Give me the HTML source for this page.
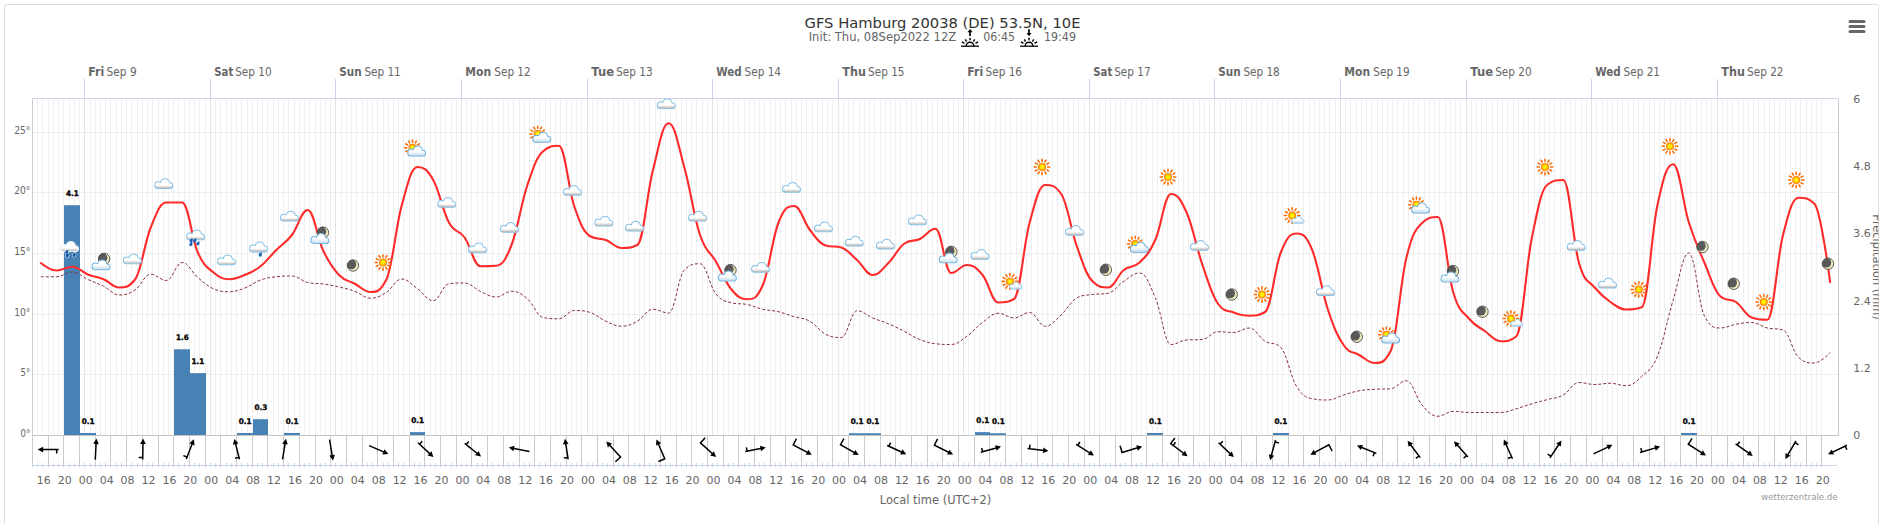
<!DOCTYPE html>
<html><head><meta charset="utf-8"><title>GFS Hamburg Meteogram</title><style>html,body{margin:0;padding:0;background:#fff;overflow:hidden}svg{display:block}</style></head><body>
<svg width="1881" height="524" viewBox="0 0 1881 524" font-family="DejaVu Sans, Liberation Sans, sans-serif">
<defs>
<linearGradient id="cg" x1="0" y1="0" x2="0" y2="1"><stop offset="0" stop-color="#fff"/><stop offset="0.66" stop-color="#fff"/><stop offset="0.84" stop-color="#d9d5d1"/><stop offset="0.94" stop-color="#c2bdb9"/><stop offset="1" stop-color="#dfe9f2"/></linearGradient>
<radialGradient id="sg" cx="0.5" cy="0.5" r="0.5"><stop offset="0" stop-color="#ffff00"/><stop offset="0.35" stop-color="#fff000"/><stop offset="0.75" stop-color="#ffa400"/><stop offset="1" stop-color="#ff7200"/></radialGradient>
<linearGradient id="cb" x1="0" y1="0" x2="0" y2="1"><stop offset="0" stop-color="#fff"/><stop offset="0.5" stop-color="#fff"/><stop offset="0.9" stop-color="#cfe3f0"/><stop offset="1" stop-color="#e6f0f8"/></linearGradient>
<clipPath id="mc"><circle r="5.8"/></clipPath>
</defs>
<rect width="1881" height="524" fill="#fff"/>
<rect x="4.5" y="4.5" width="1874" height="540" rx="2" fill="none" stroke="#dcdcdc" stroke-width="1"/>
<path d="M37.5,98.5V435.5M42.5,98.5V435.5M48.5,98.5V435.5M53.5,98.5V435.5M58.5,98.5V435.5M63.5,98.5V435.5M69.5,98.5V435.5M74.5,98.5V435.5M79.5,98.5V435.5M90.5,98.5V435.5M95.5,98.5V435.5M100.5,98.5V435.5M105.5,98.5V435.5M110.5,98.5V435.5M116.5,98.5V435.5M121.5,98.5V435.5M126.5,98.5V435.5M131.5,98.5V435.5M137.5,98.5V435.5M142.5,98.5V435.5M147.5,98.5V435.5M152.5,98.5V435.5M158.5,98.5V435.5M163.5,98.5V435.5M168.5,98.5V435.5M173.5,98.5V435.5M178.5,98.5V435.5M184.5,98.5V435.5M189.5,98.5V435.5M194.5,98.5V435.5M199.5,98.5V435.5M205.5,98.5V435.5M215.5,98.5V435.5M220.5,98.5V435.5M226.5,98.5V435.5M231.5,98.5V435.5M236.5,98.5V435.5M241.5,98.5V435.5M247.5,98.5V435.5M252.5,98.5V435.5M257.5,98.5V435.5M262.5,98.5V435.5M267.5,98.5V435.5M273.5,98.5V435.5M278.5,98.5V435.5M283.5,98.5V435.5M288.5,98.5V435.5M294.5,98.5V435.5M299.5,98.5V435.5M304.5,98.5V435.5M309.5,98.5V435.5M315.5,98.5V435.5M320.5,98.5V435.5M325.5,98.5V435.5M330.5,98.5V435.5M341.5,98.5V435.5M346.5,98.5V435.5M351.5,98.5V435.5M356.5,98.5V435.5M362.5,98.5V435.5M367.5,98.5V435.5M372.5,98.5V435.5M377.5,98.5V435.5M383.5,98.5V435.5M388.5,98.5V435.5M393.5,98.5V435.5M398.5,98.5V435.5M403.5,98.5V435.5M409.5,98.5V435.5M414.5,98.5V435.5M419.5,98.5V435.5M424.5,98.5V435.5M430.5,98.5V435.5M435.5,98.5V435.5M440.5,98.5V435.5M445.5,98.5V435.5M451.5,98.5V435.5M456.5,98.5V435.5M466.5,98.5V435.5M471.5,98.5V435.5M477.5,98.5V435.5M482.5,98.5V435.5M487.5,98.5V435.5M492.5,98.5V435.5M498.5,98.5V435.5M503.5,98.5V435.5M508.5,98.5V435.5M513.5,98.5V435.5M519.5,98.5V435.5M524.5,98.5V435.5M529.5,98.5V435.5M534.5,98.5V435.5M539.5,98.5V435.5M545.5,98.5V435.5M550.5,98.5V435.5M555.5,98.5V435.5M560.5,98.5V435.5M566.5,98.5V435.5M571.5,98.5V435.5M576.5,98.5V435.5M581.5,98.5V435.5M592.5,98.5V435.5M597.5,98.5V435.5M602.5,98.5V435.5M607.5,98.5V435.5M613.5,98.5V435.5M618.5,98.5V435.5M623.5,98.5V435.5M628.5,98.5V435.5M634.5,98.5V435.5M639.5,98.5V435.5M644.5,98.5V435.5M649.5,98.5V435.5M655.5,98.5V435.5M660.5,98.5V435.5M665.5,98.5V435.5M670.5,98.5V435.5M676.5,98.5V435.5M681.5,98.5V435.5M686.5,98.5V435.5M691.5,98.5V435.5M696.5,98.5V435.5M702.5,98.5V435.5M707.5,98.5V435.5M717.5,98.5V435.5M723.5,98.5V435.5M728.5,98.5V435.5M733.5,98.5V435.5M738.5,98.5V435.5M744.5,98.5V435.5M749.5,98.5V435.5M754.5,98.5V435.5M759.5,98.5V435.5M764.5,98.5V435.5M770.5,98.5V435.5M775.5,98.5V435.5M780.5,98.5V435.5M785.5,98.5V435.5M791.5,98.5V435.5M796.5,98.5V435.5M801.5,98.5V435.5M806.5,98.5V435.5M812.5,98.5V435.5M817.5,98.5V435.5M822.5,98.5V435.5M827.5,98.5V435.5M832.5,98.5V435.5M843.5,98.5V435.5M848.5,98.5V435.5M853.5,98.5V435.5M859.5,98.5V435.5M864.5,98.5V435.5M869.5,98.5V435.5M874.5,98.5V435.5M880.5,98.5V435.5M885.5,98.5V435.5M890.5,98.5V435.5M895.5,98.5V435.5M900.5,98.5V435.5M906.5,98.5V435.5M911.5,98.5V435.5M916.5,98.5V435.5M921.5,98.5V435.5M927.5,98.5V435.5M932.5,98.5V435.5M937.5,98.5V435.5M942.5,98.5V435.5M948.5,98.5V435.5M953.5,98.5V435.5M958.5,98.5V435.5M968.5,98.5V435.5M974.5,98.5V435.5M979.5,98.5V435.5M984.5,98.5V435.5M989.5,98.5V435.5M995.5,98.5V435.5M1000.5,98.5V435.5M1005.5,98.5V435.5M1010.5,98.5V435.5M1016.5,98.5V435.5M1021.5,98.5V435.5M1026.5,98.5V435.5M1031.5,98.5V435.5M1037.5,98.5V435.5M1042.5,98.5V435.5M1047.5,98.5V435.5M1052.5,98.5V435.5M1057.5,98.5V435.5M1063.5,98.5V435.5M1068.5,98.5V435.5M1073.5,98.5V435.5M1078.5,98.5V435.5M1084.5,98.5V435.5M1094.5,98.5V435.5M1099.5,98.5V435.5M1105.5,98.5V435.5M1110.5,98.5V435.5M1115.5,98.5V435.5M1120.5,98.5V435.5M1125.5,98.5V435.5M1131.5,98.5V435.5M1136.5,98.5V435.5M1141.5,98.5V435.5M1146.5,98.5V435.5M1152.5,98.5V435.5M1157.5,98.5V435.5M1162.5,98.5V435.5M1167.5,98.5V435.5M1173.5,98.5V435.5M1178.5,98.5V435.5M1183.5,98.5V435.5M1188.5,98.5V435.5M1193.5,98.5V435.5M1199.5,98.5V435.5M1204.5,98.5V435.5M1209.5,98.5V435.5M1220.5,98.5V435.5M1225.5,98.5V435.5M1230.5,98.5V435.5M1235.5,98.5V435.5M1241.5,98.5V435.5M1246.5,98.5V435.5M1251.5,98.5V435.5M1256.5,98.5V435.5M1261.5,98.5V435.5M1267.5,98.5V435.5M1272.5,98.5V435.5M1277.5,98.5V435.5M1282.5,98.5V435.5M1288.5,98.5V435.5M1293.5,98.5V435.5M1298.5,98.5V435.5M1303.5,98.5V435.5M1309.5,98.5V435.5M1314.5,98.5V435.5M1319.5,98.5V435.5M1324.5,98.5V435.5M1329.5,98.5V435.5M1335.5,98.5V435.5M1345.5,98.5V435.5M1350.5,98.5V435.5M1356.5,98.5V435.5M1361.5,98.5V435.5M1366.5,98.5V435.5M1371.5,98.5V435.5M1377.5,98.5V435.5M1382.5,98.5V435.5M1387.5,98.5V435.5M1392.5,98.5V435.5M1397.5,98.5V435.5M1403.5,98.5V435.5M1408.5,98.5V435.5M1413.5,98.5V435.5M1418.5,98.5V435.5M1424.5,98.5V435.5M1429.5,98.5V435.5M1434.5,98.5V435.5M1439.5,98.5V435.5M1445.5,98.5V435.5M1450.5,98.5V435.5M1455.5,98.5V435.5M1460.5,98.5V435.5M1471.5,98.5V435.5M1476.5,98.5V435.5M1481.5,98.5V435.5M1486.5,98.5V435.5M1492.5,98.5V435.5M1497.5,98.5V435.5M1502.5,98.5V435.5M1507.5,98.5V435.5M1513.5,98.5V435.5M1518.5,98.5V435.5M1523.5,98.5V435.5M1528.5,98.5V435.5M1534.5,98.5V435.5M1539.5,98.5V435.5M1544.5,98.5V435.5M1549.5,98.5V435.5M1554.5,98.5V435.5M1560.5,98.5V435.5M1565.5,98.5V435.5M1570.5,98.5V435.5M1575.5,98.5V435.5M1581.5,98.5V435.5M1586.5,98.5V435.5M1596.5,98.5V435.5M1602.5,98.5V435.5M1607.5,98.5V435.5M1612.5,98.5V435.5M1617.5,98.5V435.5M1622.5,98.5V435.5M1628.5,98.5V435.5M1633.5,98.5V435.5M1638.5,98.5V435.5M1643.5,98.5V435.5M1649.5,98.5V435.5M1654.5,98.5V435.5M1659.5,98.5V435.5M1664.5,98.5V435.5M1670.5,98.5V435.5M1675.5,98.5V435.5M1680.5,98.5V435.5M1685.5,98.5V435.5M1690.5,98.5V435.5M1696.5,98.5V435.5M1701.5,98.5V435.5M1706.5,98.5V435.5M1711.5,98.5V435.5M1722.5,98.5V435.5M1727.5,98.5V435.5M1732.5,98.5V435.5M1738.5,98.5V435.5M1743.5,98.5V435.5M1748.5,98.5V435.5M1753.5,98.5V435.5M1758.5,98.5V435.5M1764.5,98.5V435.5M1769.5,98.5V435.5M1774.5,98.5V435.5M1779.5,98.5V435.5M1785.5,98.5V435.5M1790.5,98.5V435.5M1795.5,98.5V435.5M1800.5,98.5V435.5M1806.5,98.5V435.5M1811.5,98.5V435.5M1816.5,98.5V435.5M1821.5,98.5V435.5" stroke="#f0f0f0" stroke-width="1" fill="none"/>
<path d="M84.5,98.5V435.5M210.5,98.5V435.5M335.5,98.5V435.5M461.5,98.5V435.5M587.5,98.5V435.5M712.5,98.5V435.5M838.5,98.5V435.5M963.5,98.5V435.5M1089.5,98.5V435.5M1214.5,98.5V435.5M1340.5,98.5V435.5M1466.5,98.5V435.5M1591.5,98.5V435.5M1717.5,98.5V435.5" stroke="#e3e3e3" stroke-width="1" fill="none"/>
<path d="M32.5,132.5H1838.5M32.5,192.5H1838.5M32.5,253.5H1838.5M32.5,314.5H1838.5M32.5,374.5H1838.5" stroke="#ededed" stroke-width="1" fill="none"/>
<rect x="64" y="205.22" width="16" height="230.28" fill="#4682b4"/>
<rect x="80" y="432.97" width="16" height="2.53" fill="#4682b4"/>
<rect x="174" y="349.28" width="16" height="86.22" fill="#4682b4"/>
<rect x="190" y="373.15" width="16" height="62.35" fill="#4682b4"/>
<rect x="237" y="432.97" width="16" height="2.53" fill="#4682b4"/>
<rect x="253" y="419.21" width="15" height="16.29" fill="#4682b4"/>
<rect x="284" y="432.97" width="16" height="2.53" fill="#4682b4"/>
<rect x="410" y="432.13" width="15" height="3.37" fill="#4682b4"/>
<rect x="849" y="433.25" width="16" height="2.25" fill="#4682b4"/>
<rect x="865" y="433.25" width="16" height="2.25" fill="#4682b4"/>
<rect x="975" y="432.13" width="15" height="3.37" fill="#4682b4"/>
<rect x="990" y="433.25" width="16" height="2.25" fill="#4682b4"/>
<rect x="1147" y="432.97" width="16" height="2.53" fill="#4682b4"/>
<rect x="1273" y="432.97" width="16" height="2.53" fill="#4682b4"/>
<rect x="1681" y="432.97" width="16" height="2.53" fill="#4682b4"/>
<path d="M32.5,98.5V467.0M1838.5,98.5V435.5" stroke="#cccccc" stroke-width="1" fill="none"/>
<path d="M32.5,435.5H1838.5" stroke="#c4c4c4" stroke-width="1.2" fill="none"/>
<path d="M32.5,98.5H1838.5M84.5,98.5V79M210.5,98.5V79M335.5,98.5V79M461.5,98.5V79M587.5,98.5V79M712.5,98.5V79M838.5,98.5V79M963.5,98.5V79M1089.5,98.5V79M1214.5,98.5V79M1340.5,98.5V79M1466.5,98.5V79M1591.5,98.5V79M1717.5,98.5V79" stroke="#ccd6eb" stroke-width="1" fill="none"/>
<path d="M40.85,276.75C40.85,276.75 50.26,276.75 56.54,276.75C62.82,276.75 65.96,272.00 72.24,272.00C78.52,272.00 81.66,276.65 87.93,279.50C94.21,282.35 97.35,283.15 103.63,286.25C109.91,289.35 113.05,295.00 119.32,295.00C125.60,295.00 128.74,294.15 135.02,290.00C141.30,285.85 144.44,274.25 150.72,274.25C156.99,274.25 160.13,280.50 166.41,280.50C172.69,280.50 175.83,262.50 182.11,262.50C188.38,262.50 191.52,272.25 197.80,277.50C204.08,282.75 207.22,285.90 213.50,288.75C219.78,291.60 222.91,291.75 229.19,291.75C235.47,291.75 238.61,290.35 244.89,288.00C251.17,285.65 254.31,282.25 260.58,280.00C266.86,277.75 270.00,277.50 276.28,276.75C282.56,276.00 285.70,276.00 291.97,276.00C298.25,276.00 301.39,281.00 307.67,282.50C313.95,284.00 317.09,283.10 323.36,284.00C329.64,284.90 332.78,285.55 339.06,287.00C345.34,288.45 348.48,289.00 354.76,291.25C361.03,293.50 364.17,298.25 370.45,298.25C376.73,298.25 379.87,296.35 386.15,292.50C392.42,288.65 395.56,279.00 401.84,279.00C408.12,279.00 411.26,284.40 417.54,288.75C423.82,293.10 426.95,300.75 433.23,300.75C439.51,300.75 442.65,284.50 448.93,283.75C455.21,283.00 458.35,283.00 464.62,283.00C470.90,283.00 474.04,288.45 480.32,291.25C486.60,294.05 489.74,297.00 496.01,297.00C502.29,297.00 505.43,291.25 511.71,291.25C517.99,291.25 521.13,293.50 527.41,298.75C533.68,304.00 536.82,316.25 543.10,317.50C549.38,318.75 552.52,318.75 558.80,318.75C565.07,318.75 568.21,310.50 574.49,310.50C580.77,310.50 583.91,310.50 590.19,312.50C596.46,314.50 599.60,318.50 605.88,321.25C612.16,324.00 615.30,326.25 621.58,326.25C627.86,326.25 630.99,324.65 637.27,321.25C643.55,317.85 646.69,309.25 652.97,309.25C659.25,309.25 662.39,313.00 668.66,313.00C674.94,313.00 678.08,276.25 684.36,270.00C690.64,263.75 693.78,263.75 700.05,263.75C706.33,263.75 709.47,285.95 715.75,293.75C722.03,301.55 725.17,301.00 731.45,302.75C737.72,304.50 740.86,303.20 747.14,304.50C753.42,305.80 756.56,307.80 762.84,309.25C769.11,310.70 772.25,310.25 778.53,311.75C784.81,313.25 787.95,314.85 794.23,316.75C800.51,318.65 803.64,317.75 809.92,321.25C816.20,324.75 819.34,331.00 825.62,334.25C831.90,337.50 835.03,337.50 841.31,337.50C847.59,337.50 850.73,310.75 857.01,310.75C863.29,310.75 866.43,315.40 872.70,318.00C878.98,320.60 882.12,321.10 888.40,323.75C894.68,326.40 897.82,328.10 904.09,331.25C910.37,334.40 913.51,337.00 919.79,339.50C926.07,342.00 929.21,343.00 935.49,343.75C941.76,344.50 944.90,344.50 951.18,344.50C957.46,344.50 960.60,340.65 966.88,336.25C973.15,331.85 976.29,327.10 982.57,322.50C988.85,317.90 991.99,313.25 998.27,313.25C1004.55,313.25 1007.68,318.00 1013.96,318.00C1020.24,318.00 1023.38,312.50 1029.66,312.50C1035.94,312.50 1039.08,326.25 1045.35,326.25C1051.63,326.25 1054.77,320.65 1061.05,315.00C1067.33,309.35 1070.47,301.50 1076.74,298.00C1083.02,294.50 1086.16,295.45 1092.44,294.50C1098.72,293.55 1101.86,294.50 1108.13,293.25C1114.41,292.00 1117.55,285.30 1123.83,281.25C1130.11,277.20 1133.25,273.00 1139.53,273.00C1145.80,273.00 1148.94,283.20 1155.22,297.50C1161.50,311.80 1164.64,344.50 1170.92,344.50C1177.19,344.50 1180.33,340.50 1186.61,340.00C1192.89,339.50 1196.03,340.00 1202.31,339.50C1208.59,339.00 1211.72,331.75 1218.00,331.75C1224.28,331.75 1227.42,332.50 1233.70,332.50C1239.98,332.50 1243.12,328.00 1249.39,328.00C1255.67,328.00 1258.81,337.35 1265.09,341.25C1271.37,345.15 1274.51,341.25 1280.78,347.50C1287.06,353.75 1290.20,376.00 1296.48,386.25C1302.76,396.50 1305.90,397.50 1312.18,398.75C1318.45,400.00 1321.59,400.00 1327.87,400.00C1334.15,400.00 1337.29,396.85 1343.57,395.00C1349.84,393.15 1352.98,391.90 1359.26,390.75C1365.54,389.60 1368.68,389.65 1374.96,389.25C1381.23,388.85 1384.37,389.25 1390.65,388.75C1396.93,388.25 1400.07,380.75 1406.35,380.75C1412.63,380.75 1415.76,397.90 1422.04,405.00C1428.32,412.10 1431.46,416.25 1437.74,416.25C1444.02,416.25 1447.16,411.25 1453.43,411.25C1459.71,411.25 1462.85,412.50 1469.13,412.50C1475.41,412.50 1478.55,412.50 1484.82,412.50C1491.10,412.50 1494.24,412.50 1500.52,412.50C1506.80,412.50 1509.94,410.50 1516.22,408.75C1522.49,407.00 1525.63,405.60 1531.91,403.75C1538.19,401.90 1541.33,401.25 1547.61,399.50C1553.88,397.75 1557.02,398.40 1563.30,395.00C1569.58,391.60 1572.72,382.50 1579.00,382.50C1585.28,382.50 1588.41,384.50 1594.69,384.50C1600.97,384.50 1604.11,383.25 1610.39,383.25C1616.67,383.25 1619.80,385.75 1626.08,385.75C1632.36,385.75 1635.50,382.20 1641.78,376.25C1648.06,370.30 1651.20,371.25 1657.47,356.00C1663.75,340.75 1666.89,320.60 1673.17,300.00C1679.45,279.40 1682.59,253.00 1688.86,253.00C1695.14,253.00 1698.28,304.50 1704.56,316.25C1710.84,328.00 1713.98,328.00 1720.26,328.00C1726.53,328.00 1729.67,325.35 1735.95,324.25C1742.23,323.15 1745.37,322.50 1751.65,322.50C1757.92,322.50 1761.06,326.50 1767.34,328.00C1773.62,329.50 1776.76,328.00 1783.04,330.00C1789.32,332.00 1792.45,352.00 1798.73,357.50C1805.01,363.00 1808.15,363.00 1814.43,363.00C1820.71,363.00 1830.12,352.50 1830.12,352.50" fill="none" stroke="#883038" stroke-width="1" stroke-dasharray="3,2"/>
<path d="M40.85,263.00C40.85,263.00 50.26,270.50 56.54,270.50C62.82,270.50 65.96,266.75 72.24,266.75C78.52,266.75 81.66,272.00 87.93,274.50C94.21,277.00 97.35,276.65 103.63,279.25C109.91,281.85 113.05,287.50 119.32,287.50C125.60,287.50 128.74,287.50 135.02,279.50C141.30,271.50 144.44,242.90 150.72,227.50C156.99,212.10 160.13,202.50 166.41,202.50C172.69,202.50 175.83,202.50 182.11,202.50C188.38,202.50 191.52,238.50 197.80,252.50C204.08,266.50 207.22,267.15 213.50,272.50C219.78,277.85 222.91,279.25 229.19,279.25C235.47,279.25 238.61,277.60 244.89,275.00C251.17,272.40 254.31,271.25 260.58,266.25C266.86,261.25 270.00,256.25 276.28,250.00C282.56,243.75 285.70,243.00 291.97,235.00C298.25,227.00 301.39,210.00 307.67,210.00C313.95,210.00 317.09,238.00 323.36,251.00C329.64,264.00 332.78,268.45 339.06,275.00C345.34,281.55 348.48,280.35 354.76,283.75C361.03,287.15 364.17,292.00 370.45,292.00C376.73,292.00 379.87,292.00 386.15,280.00C392.42,268.00 395.56,227.60 401.84,205.00C408.12,182.40 411.26,167.00 417.54,167.00C423.82,167.00 426.95,168.90 433.23,180.00C439.51,191.10 442.65,211.00 448.93,222.50C455.21,234.00 458.35,228.75 464.62,237.50C470.90,246.25 474.04,266.25 480.32,266.25C486.60,266.25 489.74,266.25 496.01,265.75C502.29,265.25 505.43,260.65 511.71,244.50C517.99,228.35 521.13,203.65 527.41,185.00C533.68,166.35 536.82,156.75 543.10,151.25C549.38,145.75 552.52,145.75 558.80,145.75C565.07,145.75 568.21,188.90 574.49,207.00C580.77,225.10 583.91,232.50 590.19,236.25C596.46,240.00 599.60,237.65 605.88,240.00C612.16,242.35 615.30,248.00 621.58,248.00C627.86,248.00 630.99,248.00 637.27,245.00C643.55,242.00 646.69,194.36 652.97,170.00C659.25,145.64 662.39,123.20 668.66,123.20C674.94,123.20 678.08,145.14 684.36,167.50C690.64,189.86 693.78,216.25 700.05,235.00C706.33,253.75 709.47,250.35 715.75,261.25C722.03,272.15 725.17,281.90 731.45,289.50C737.72,297.10 740.86,299.25 747.14,299.25C753.42,299.25 756.56,299.25 762.84,285.00C769.11,270.75 772.25,238.30 778.53,222.50C784.81,206.70 787.95,206.00 794.23,206.00C800.51,206.00 803.64,222.10 809.92,230.00C816.20,237.90 819.34,243.50 825.62,245.50C831.90,247.50 835.03,245.50 841.31,247.50C847.59,249.50 850.73,254.50 857.01,260.00C863.29,265.50 866.43,275.00 872.70,275.00C878.98,275.00 882.12,269.25 888.40,263.00C894.68,256.75 897.82,248.50 904.09,243.75C910.37,239.00 913.51,242.00 919.79,239.00C926.07,236.00 929.21,228.75 935.49,228.75C941.76,228.75 944.90,273.00 951.18,273.00C957.46,273.00 960.60,265.00 966.88,265.00C973.15,265.00 976.29,267.50 982.57,275.00C988.85,282.50 991.99,302.50 998.27,302.50C1004.55,302.50 1007.68,302.50 1013.96,299.00C1020.24,295.50 1023.38,245.30 1029.66,222.50C1035.94,199.70 1039.08,185.00 1045.35,185.00C1051.63,185.00 1054.77,185.00 1061.05,193.75C1067.33,202.50 1070.47,228.50 1076.74,246.00C1083.02,263.50 1086.16,275.00 1092.44,281.25C1098.72,287.50 1101.86,287.50 1108.13,287.50C1114.41,287.50 1117.55,275.00 1123.83,270.00C1130.11,265.00 1133.25,268.50 1139.53,262.50C1145.80,256.50 1148.94,253.70 1155.22,240.00C1161.50,226.30 1164.64,194.00 1170.92,194.00C1177.19,194.00 1180.33,198.40 1186.61,212.50C1192.89,226.60 1196.03,246.25 1202.31,264.50C1208.59,282.75 1211.72,295.00 1218.00,303.75C1224.28,312.50 1227.42,310.10 1233.70,312.50C1239.98,314.90 1243.12,315.75 1249.39,315.75C1255.67,315.75 1258.81,315.75 1265.09,312.00C1271.37,308.25 1274.51,268.20 1280.78,252.50C1287.06,236.80 1290.20,233.50 1296.48,233.50C1302.76,233.50 1305.90,234.80 1312.18,250.00C1318.45,265.20 1321.59,290.50 1327.87,309.50C1334.15,328.50 1337.29,335.90 1343.57,345.00C1349.84,354.10 1352.98,351.40 1359.26,355.00C1365.54,358.60 1368.68,363.00 1374.96,363.00C1381.23,363.00 1384.37,363.00 1390.65,351.00C1396.93,339.00 1400.07,283.60 1406.35,258.00C1412.63,232.40 1415.76,229.00 1422.04,223.00C1428.32,217.00 1431.46,217.00 1437.74,217.00C1444.02,217.00 1447.16,272.65 1453.43,293.00C1459.71,313.35 1462.85,311.15 1469.13,318.75C1475.41,326.35 1478.55,326.50 1484.82,331.00C1491.10,335.50 1494.24,341.25 1500.52,341.25C1506.80,341.25 1509.94,341.25 1516.22,336.50C1522.49,331.75 1525.63,267.90 1531.91,237.50C1538.19,207.10 1541.33,189.00 1547.61,184.50C1553.88,180.00 1557.02,180.00 1563.30,180.00C1569.58,180.00 1572.72,241.50 1579.00,263.00C1585.28,284.50 1588.41,279.70 1594.69,287.50C1600.97,295.30 1604.11,297.60 1610.39,302.00C1616.67,306.40 1619.80,309.50 1626.08,309.50C1632.36,309.50 1635.50,309.50 1641.78,307.25C1648.06,305.00 1651.20,233.60 1657.47,205.00C1663.75,176.40 1666.89,164.25 1673.17,164.25C1679.45,164.25 1682.59,202.75 1688.86,222.50C1695.14,242.25 1698.28,248.25 1704.56,263.00C1710.84,277.75 1713.98,290.50 1720.26,296.25C1726.53,302.00 1729.67,297.75 1735.95,302.00C1742.23,306.25 1745.37,315.25 1751.65,317.50C1757.92,319.75 1761.06,319.75 1767.34,319.75C1773.62,319.75 1776.76,259.40 1783.04,235.00C1789.32,210.60 1792.45,197.75 1798.73,197.75C1805.01,197.75 1808.15,197.75 1814.43,203.75C1820.71,209.75 1830.12,282.00 1830.12,282.00" fill="none" stroke="#ff2b2b" stroke-width="2.1" stroke-linejoin="round" stroke-linecap="round"/>
<path transform="translate(69.60,246.60) scale(0.965)" d="M-6.5,5C-8.4,5 -9.3,3.6 -9.3,1.9C-9.3,-0.5 -7.8,-2.2 -5.8,-2.2C-5,-2.2 -4.2,-2 -3.5,-1.5C-2.8,-3.8 -1,-5.3 1.2,-5.3C3.8,-5.3 5.6,-3.5 6,-1C8,-0.8 9.3,0.6 9.3,2.3C9.3,4 8.2,5 6.5,5Z" fill="url(#cg)" stroke="#e8f2fa" stroke-width="1.04"/><path transform="translate(67.10,251.60) rotate(25)" d="M0,-2.4C1.3,-0.6 1.5,0.2 1.5,0.9A1.5,1.5 0 0 1 -1.5,0.9C-1.5,0.2 -1.3,-0.6 0,-2.4Z" fill="#0f4fa0" stroke="#fff" stroke-width="0.9" paint-order="stroke"/><path transform="translate(67.50,255.00) rotate(25)" d="M0,-2.4C1.3,-0.6 1.5,0.2 1.5,0.9A1.5,1.5 0 0 1 -1.5,0.9C-1.5,0.2 -1.3,-0.6 0,-2.4Z" fill="#0f4fa0" stroke="#fff" stroke-width="0.9" paint-order="stroke"/><path transform="translate(74.40,254.60) rotate(25)" d="M0,-2.4C1.3,-0.6 1.5,0.2 1.5,0.9A1.5,1.5 0 0 1 -1.5,0.9C-1.5,0.2 -1.3,-0.6 0,-2.4Z" fill="#0f4fa0" stroke="#fff" stroke-width="0.9" paint-order="stroke"/>
<g transform="translate(104.10,258.90)"><circle r="5.8" fill="#efe9bd"/><circle cx="-1.6" cy="-1.0" r="4.85" fill="#595959" clip-path="url(#mc)"/><circle r="5.7" fill="none" stroke="#4a4a4a" stroke-width="0.9"/></g><path transform="translate(101.00,265.00) scale(0.965)" d="M-6.5,5C-8.4,5 -9.3,3.6 -9.3,1.9C-9.3,-0.5 -7.8,-2.2 -5.8,-2.2C-5,-2.2 -4.2,-2 -3.5,-1.5C-2.8,-3.8 -1,-5.3 1.2,-5.3C3.8,-5.3 5.6,-3.5 6,-1C8,-0.8 9.3,0.6 9.3,2.3C9.3,4 8.2,5 6.5,5Z" fill="url(#cb)" stroke="#74b6e0" stroke-width="1.04"/>
<path transform="translate(132.40,259.00) scale(0.965)" d="M-6.5,5C-8.4,5 -9.3,3.6 -9.3,1.9C-9.3,-0.5 -7.8,-2.2 -5.8,-2.2C-5,-2.2 -4.2,-2 -3.5,-1.5C-2.8,-3.8 -1,-5.3 1.2,-5.3C3.8,-5.3 5.6,-3.5 6,-1C8,-0.8 9.3,0.6 9.3,2.3C9.3,4 8.2,5 6.5,5Z" fill="url(#cg)" stroke="#86c1e6" stroke-width="1.04"/>
<path transform="translate(163.75,183.75) scale(0.965)" d="M-6.5,5C-8.4,5 -9.3,3.6 -9.3,1.9C-9.3,-0.5 -7.8,-2.2 -5.8,-2.2C-5,-2.2 -4.2,-2 -3.5,-1.5C-2.8,-3.8 -1,-5.3 1.2,-5.3C3.8,-5.3 5.6,-3.5 6,-1C8,-0.8 9.3,0.6 9.3,2.3C9.3,4 8.2,5 6.5,5Z" fill="url(#cg)" stroke="#86c1e6" stroke-width="1.04"/>
<path transform="translate(195.60,235.00) scale(0.965)" d="M-6.5,5C-8.4,5 -9.3,3.6 -9.3,1.9C-9.3,-0.5 -7.8,-2.2 -5.8,-2.2C-5,-2.2 -4.2,-2 -3.5,-1.5C-2.8,-3.8 -1,-5.3 1.2,-5.3C3.8,-5.3 5.6,-3.5 6,-1C8,-0.8 9.3,0.6 9.3,2.3C9.3,4 8.2,5 6.5,5Z" fill="url(#cg)" stroke="#86c1e6" stroke-width="1.04"/><path transform="translate(191.40,240.10) rotate(25)" d="M0,-2.4C1.3,-0.6 1.5,0.2 1.5,0.9A1.5,1.5 0 0 1 -1.5,0.9C-1.5,0.2 -1.3,-0.6 0,-2.4Z" fill="#1c62b8"/><path transform="translate(191.20,243.70) rotate(25)" d="M0,-2.4C1.3,-0.6 1.5,0.2 1.5,0.9A1.5,1.5 0 0 1 -1.5,0.9C-1.5,0.2 -1.3,-0.6 0,-2.4Z" fill="#1c62b8"/><path transform="translate(198.20,243.10) rotate(25)" d="M0,-2.4C1.3,-0.6 1.5,0.2 1.5,0.9A1.5,1.5 0 0 1 -1.5,0.9C-1.5,0.2 -1.3,-0.6 0,-2.4Z" fill="#1c62b8"/><path transform="translate(195.10,240.30) rotate(25)" d="M0,-2.4C1.3,-0.6 1.5,0.2 1.5,0.9A1.5,1.5 0 0 1 -1.5,0.9C-1.5,0.2 -1.3,-0.6 0,-2.4Z" fill="#1c62b8"/>
<path transform="translate(226.50,260.00) scale(0.965)" d="M-6.5,5C-8.4,5 -9.3,3.6 -9.3,1.9C-9.3,-0.5 -7.8,-2.2 -5.8,-2.2C-5,-2.2 -4.2,-2 -3.5,-1.5C-2.8,-3.8 -1,-5.3 1.2,-5.3C3.8,-5.3 5.6,-3.5 6,-1C8,-0.8 9.3,0.6 9.3,2.3C9.3,4 8.2,5 6.5,5Z" fill="url(#cg)" stroke="#86c1e6" stroke-width="1.04"/>
<path transform="translate(258.60,247.05) scale(0.965)" d="M-6.5,5C-8.4,5 -9.3,3.6 -9.3,1.9C-9.3,-0.5 -7.8,-2.2 -5.8,-2.2C-5,-2.2 -4.2,-2 -3.5,-1.5C-2.8,-3.8 -1,-5.3 1.2,-5.3C3.8,-5.3 5.6,-3.5 6,-1C8,-0.8 9.3,0.6 9.3,2.3C9.3,4 8.2,5 6.5,5Z" fill="url(#cg)" stroke="#86c1e6" stroke-width="1.04"/><path transform="translate(260.60,254.25) rotate(25)" d="M0,-2.4C1.3,-0.6 1.5,0.2 1.5,0.9A1.5,1.5 0 0 1 -1.5,0.9C-1.5,0.2 -1.3,-0.6 0,-2.4Z" fill="#1c62b8"/>
<path transform="translate(289.50,216.25) scale(0.965)" d="M-6.5,5C-8.4,5 -9.3,3.6 -9.3,1.9C-9.3,-0.5 -7.8,-2.2 -5.8,-2.2C-5,-2.2 -4.2,-2 -3.5,-1.5C-2.8,-3.8 -1,-5.3 1.2,-5.3C3.8,-5.3 5.6,-3.5 6,-1C8,-0.8 9.3,0.6 9.3,2.3C9.3,4 8.2,5 6.5,5Z" fill="url(#cg)" stroke="#86c1e6" stroke-width="1.04"/>
<g transform="translate(323.00,232.60)"><circle r="5.8" fill="#efe9bd"/><circle cx="-1.6" cy="-1.0" r="4.85" fill="#595959" clip-path="url(#mc)"/><circle r="5.7" fill="none" stroke="#4a4a4a" stroke-width="0.9"/></g><path transform="translate(319.90,238.70) scale(0.965)" d="M-6.5,5C-8.4,5 -9.3,3.6 -9.3,1.9C-9.3,-0.5 -7.8,-2.2 -5.8,-2.2C-5,-2.2 -4.2,-2 -3.5,-1.5C-2.8,-3.8 -1,-5.3 1.2,-5.3C3.8,-5.3 5.6,-3.5 6,-1C8,-0.8 9.3,0.6 9.3,2.3C9.3,4 8.2,5 6.5,5Z" fill="url(#cb)" stroke="#74b6e0" stroke-width="1.04"/>
<g transform="translate(353.00,265.50)"><circle r="5.8" fill="#efe9bd"/><circle cx="-1.6" cy="-1.0" r="4.85" fill="#595959" clip-path="url(#mc)"/><circle r="5.7" fill="none" stroke="#4a4a4a" stroke-width="0.9"/></g>
<g transform="translate(383.00,262.50)"><path d="M0.00,-5.60L0.00,-7.80M2.80,-4.85L3.90,-6.75M4.85,-2.80L6.75,-3.90M5.60,-0.00L7.80,-0.00M4.85,2.80L6.75,3.90M2.80,4.85L3.90,6.75M0.00,5.60L0.00,7.80M-2.80,4.85L-3.90,6.75M-4.85,2.80L-6.75,3.90M-5.60,0.00L-7.80,0.00M-4.85,-2.80L-6.75,-3.90M-2.80,-4.85L-3.90,-6.75" stroke="#ff6a00" stroke-width="1.55" stroke-linecap="round" fill="none"/><circle r="4" fill="url(#sg)"/></g>
<g transform="translate(412.50,147.80)"><path d="M0.00,-5.60L0.00,-7.80M2.80,-4.85L3.90,-6.75M4.85,-2.80L6.75,-3.90M5.60,-0.00L7.80,-0.00M4.85,2.80L6.75,3.90M2.80,4.85L3.90,6.75M0.00,5.60L0.00,7.80M-2.80,4.85L-3.90,6.75M-4.85,2.80L-6.75,3.90M-5.60,0.00L-7.80,0.00M-4.85,-2.80L-6.75,-3.90M-2.80,-4.85L-3.90,-6.75" stroke="#ff6a00" stroke-width="1.55" stroke-linecap="round" fill="none"/><circle r="4" fill="url(#sg)"/></g><path transform="translate(416.70,151.20) scale(0.965)" d="M-6.5,5C-8.4,5 -9.3,3.6 -9.3,1.9C-9.3,-0.5 -7.8,-2.2 -5.8,-2.2C-5,-2.2 -4.2,-2 -3.5,-1.5C-2.8,-3.8 -1,-5.3 1.2,-5.3C3.8,-5.3 5.6,-3.5 6,-1C8,-0.8 9.3,0.6 9.3,2.3C9.3,4 8.2,5 6.5,5Z" fill="url(#cb)" stroke="#6fb0dc" stroke-width="1.04"/>
<path transform="translate(446.75,202.50) scale(0.965)" d="M-6.5,5C-8.4,5 -9.3,3.6 -9.3,1.9C-9.3,-0.5 -7.8,-2.2 -5.8,-2.2C-5,-2.2 -4.2,-2 -3.5,-1.5C-2.8,-3.8 -1,-5.3 1.2,-5.3C3.8,-5.3 5.6,-3.5 6,-1C8,-0.8 9.3,0.6 9.3,2.3C9.3,4 8.2,5 6.5,5Z" fill="url(#cg)" stroke="#86c1e6" stroke-width="1.04"/>
<path transform="translate(477.50,248.00) scale(0.965)" d="M-6.5,5C-8.4,5 -9.3,3.6 -9.3,1.9C-9.3,-0.5 -7.8,-2.2 -5.8,-2.2C-5,-2.2 -4.2,-2 -3.5,-1.5C-2.8,-3.8 -1,-5.3 1.2,-5.3C3.8,-5.3 5.6,-3.5 6,-1C8,-0.8 9.3,0.6 9.3,2.3C9.3,4 8.2,5 6.5,5Z" fill="url(#cg)" stroke="#86c1e6" stroke-width="1.04"/>
<path transform="translate(509.50,227.50) scale(0.965)" d="M-6.5,5C-8.4,5 -9.3,3.6 -9.3,1.9C-9.3,-0.5 -7.8,-2.2 -5.8,-2.2C-5,-2.2 -4.2,-2 -3.5,-1.5C-2.8,-3.8 -1,-5.3 1.2,-5.3C3.8,-5.3 5.6,-3.5 6,-1C8,-0.8 9.3,0.6 9.3,2.3C9.3,4 8.2,5 6.5,5Z" fill="url(#cg)" stroke="#86c1e6" stroke-width="1.04"/>
<g transform="translate(537.70,133.95)"><path d="M0.00,-5.60L0.00,-7.80M2.80,-4.85L3.90,-6.75M4.85,-2.80L6.75,-3.90M5.60,-0.00L7.80,-0.00M4.85,2.80L6.75,3.90M2.80,4.85L3.90,6.75M0.00,5.60L0.00,7.80M-2.80,4.85L-3.90,6.75M-4.85,2.80L-6.75,3.90M-5.60,0.00L-7.80,0.00M-4.85,-2.80L-6.75,-3.90M-2.80,-4.85L-3.90,-6.75" stroke="#ff6a00" stroke-width="1.55" stroke-linecap="round" fill="none"/><circle r="4" fill="url(#sg)"/></g><path transform="translate(541.90,137.35) scale(0.965)" d="M-6.5,5C-8.4,5 -9.3,3.6 -9.3,1.9C-9.3,-0.5 -7.8,-2.2 -5.8,-2.2C-5,-2.2 -4.2,-2 -3.5,-1.5C-2.8,-3.8 -1,-5.3 1.2,-5.3C3.8,-5.3 5.6,-3.5 6,-1C8,-0.8 9.3,0.6 9.3,2.3C9.3,4 8.2,5 6.5,5Z" fill="url(#cb)" stroke="#6fb0dc" stroke-width="1.04"/>
<path transform="translate(572.50,190.50) scale(0.965)" d="M-6.5,5C-8.4,5 -9.3,3.6 -9.3,1.9C-9.3,-0.5 -7.8,-2.2 -5.8,-2.2C-5,-2.2 -4.2,-2 -3.5,-1.5C-2.8,-3.8 -1,-5.3 1.2,-5.3C3.8,-5.3 5.6,-3.5 6,-1C8,-0.8 9.3,0.6 9.3,2.3C9.3,4 8.2,5 6.5,5Z" fill="url(#cg)" stroke="#86c1e6" stroke-width="1.04"/>
<path transform="translate(603.75,221.25) scale(0.965)" d="M-6.5,5C-8.4,5 -9.3,3.6 -9.3,1.9C-9.3,-0.5 -7.8,-2.2 -5.8,-2.2C-5,-2.2 -4.2,-2 -3.5,-1.5C-2.8,-3.8 -1,-5.3 1.2,-5.3C3.8,-5.3 5.6,-3.5 6,-1C8,-0.8 9.3,0.6 9.3,2.3C9.3,4 8.2,5 6.5,5Z" fill="url(#cg)" stroke="#86c1e6" stroke-width="1.04"/>
<path transform="translate(634.50,226.25) scale(0.965)" d="M-6.5,5C-8.4,5 -9.3,3.6 -9.3,1.9C-9.3,-0.5 -7.8,-2.2 -5.8,-2.2C-5,-2.2 -4.2,-2 -3.5,-1.5C-2.8,-3.8 -1,-5.3 1.2,-5.3C3.8,-5.3 5.6,-3.5 6,-1C8,-0.8 9.3,0.6 9.3,2.3C9.3,4 8.2,5 6.5,5Z" fill="url(#cg)" stroke="#86c1e6" stroke-width="1.04"/>
<path transform="translate(666.25,103.75) scale(0.965)" d="M-6.5,5C-8.4,5 -9.3,3.6 -9.3,1.9C-9.3,-0.5 -7.8,-2.2 -5.8,-2.2C-5,-2.2 -4.2,-2 -3.5,-1.5C-2.8,-3.8 -1,-5.3 1.2,-5.3C3.8,-5.3 5.6,-3.5 6,-1C8,-0.8 9.3,0.6 9.3,2.3C9.3,4 8.2,5 6.5,5Z" fill="url(#cg)" stroke="#86c1e6" stroke-width="1.04"/>
<path transform="translate(697.50,216.25) scale(0.965)" d="M-6.5,5C-8.4,5 -9.3,3.6 -9.3,1.9C-9.3,-0.5 -7.8,-2.2 -5.8,-2.2C-5,-2.2 -4.2,-2 -3.5,-1.5C-2.8,-3.8 -1,-5.3 1.2,-5.3C3.8,-5.3 5.6,-3.5 6,-1C8,-0.8 9.3,0.6 9.3,2.3C9.3,4 8.2,5 6.5,5Z" fill="url(#cg)" stroke="#86c1e6" stroke-width="1.04"/>
<g transform="translate(730.50,270.10)"><circle r="5.8" fill="#efe9bd"/><circle cx="-1.6" cy="-1.0" r="4.85" fill="#595959" clip-path="url(#mc)"/><circle r="5.7" fill="none" stroke="#4a4a4a" stroke-width="0.9"/></g><path transform="translate(727.40,276.20) scale(0.965)" d="M-6.5,5C-8.4,5 -9.3,3.6 -9.3,1.9C-9.3,-0.5 -7.8,-2.2 -5.8,-2.2C-5,-2.2 -4.2,-2 -3.5,-1.5C-2.8,-3.8 -1,-5.3 1.2,-5.3C3.8,-5.3 5.6,-3.5 6,-1C8,-0.8 9.3,0.6 9.3,2.3C9.3,4 8.2,5 6.5,5Z" fill="url(#cb)" stroke="#74b6e0" stroke-width="1.04"/>
<path transform="translate(760.50,267.50) scale(0.965)" d="M-6.5,5C-8.4,5 -9.3,3.6 -9.3,1.9C-9.3,-0.5 -7.8,-2.2 -5.8,-2.2C-5,-2.2 -4.2,-2 -3.5,-1.5C-2.8,-3.8 -1,-5.3 1.2,-5.3C3.8,-5.3 5.6,-3.5 6,-1C8,-0.8 9.3,0.6 9.3,2.3C9.3,4 8.2,5 6.5,5Z" fill="url(#cg)" stroke="#86c1e6" stroke-width="1.04"/>
<path transform="translate(791.50,187.50) scale(0.965)" d="M-6.5,5C-8.4,5 -9.3,3.6 -9.3,1.9C-9.3,-0.5 -7.8,-2.2 -5.8,-2.2C-5,-2.2 -4.2,-2 -3.5,-1.5C-2.8,-3.8 -1,-5.3 1.2,-5.3C3.8,-5.3 5.6,-3.5 6,-1C8,-0.8 9.3,0.6 9.3,2.3C9.3,4 8.2,5 6.5,5Z" fill="url(#cg)" stroke="#86c1e6" stroke-width="1.04"/>
<path transform="translate(823.50,227.00) scale(0.965)" d="M-6.5,5C-8.4,5 -9.3,3.6 -9.3,1.9C-9.3,-0.5 -7.8,-2.2 -5.8,-2.2C-5,-2.2 -4.2,-2 -3.5,-1.5C-2.8,-3.8 -1,-5.3 1.2,-5.3C3.8,-5.3 5.6,-3.5 6,-1C8,-0.8 9.3,0.6 9.3,2.3C9.3,4 8.2,5 6.5,5Z" fill="url(#cg)" stroke="#86c1e6" stroke-width="1.04"/>
<path transform="translate(854.25,241.25) scale(0.965)" d="M-6.5,5C-8.4,5 -9.3,3.6 -9.3,1.9C-9.3,-0.5 -7.8,-2.2 -5.8,-2.2C-5,-2.2 -4.2,-2 -3.5,-1.5C-2.8,-3.8 -1,-5.3 1.2,-5.3C3.8,-5.3 5.6,-3.5 6,-1C8,-0.8 9.3,0.6 9.3,2.3C9.3,4 8.2,5 6.5,5Z" fill="url(#cg)" stroke="#86c1e6" stroke-width="1.04"/>
<path transform="translate(885.50,244.25) scale(0.965)" d="M-6.5,5C-8.4,5 -9.3,3.6 -9.3,1.9C-9.3,-0.5 -7.8,-2.2 -5.8,-2.2C-5,-2.2 -4.2,-2 -3.5,-1.5C-2.8,-3.8 -1,-5.3 1.2,-5.3C3.8,-5.3 5.6,-3.5 6,-1C8,-0.8 9.3,0.6 9.3,2.3C9.3,4 8.2,5 6.5,5Z" fill="url(#cg)" stroke="#86c1e6" stroke-width="1.04"/>
<path transform="translate(917.50,220.00) scale(0.965)" d="M-6.5,5C-8.4,5 -9.3,3.6 -9.3,1.9C-9.3,-0.5 -7.8,-2.2 -5.8,-2.2C-5,-2.2 -4.2,-2 -3.5,-1.5C-2.8,-3.8 -1,-5.3 1.2,-5.3C3.8,-5.3 5.6,-3.5 6,-1C8,-0.8 9.3,0.6 9.3,2.3C9.3,4 8.2,5 6.5,5Z" fill="url(#cg)" stroke="#86c1e6" stroke-width="1.04"/>
<g transform="translate(951.30,251.90)"><circle r="5.8" fill="#efe9bd"/><circle cx="-1.6" cy="-1.0" r="4.85" fill="#595959" clip-path="url(#mc)"/><circle r="5.7" fill="none" stroke="#4a4a4a" stroke-width="0.9"/></g><path transform="translate(948.20,258.00) scale(0.965)" d="M-6.5,5C-8.4,5 -9.3,3.6 -9.3,1.9C-9.3,-0.5 -7.8,-2.2 -5.8,-2.2C-5,-2.2 -4.2,-2 -3.5,-1.5C-2.8,-3.8 -1,-5.3 1.2,-5.3C3.8,-5.3 5.6,-3.5 6,-1C8,-0.8 9.3,0.6 9.3,2.3C9.3,4 8.2,5 6.5,5Z" fill="url(#cb)" stroke="#74b6e0" stroke-width="1.04"/>
<path transform="translate(980.00,254.50) scale(0.965)" d="M-6.5,5C-8.4,5 -9.3,3.6 -9.3,1.9C-9.3,-0.5 -7.8,-2.2 -5.8,-2.2C-5,-2.2 -4.2,-2 -3.5,-1.5C-2.8,-3.8 -1,-5.3 1.2,-5.3C3.8,-5.3 5.6,-3.5 6,-1C8,-0.8 9.3,0.6 9.3,2.3C9.3,4 8.2,5 6.5,5Z" fill="url(#cg)" stroke="#86c1e6" stroke-width="1.04"/>
<g transform="translate(1009.90,281.40)"><path d="M0.00,-5.60L0.00,-7.80M2.80,-4.85L3.90,-6.75M4.85,-2.80L6.75,-3.90M5.60,-0.00L7.80,-0.00M4.85,2.80L6.75,3.90M2.80,4.85L3.90,6.75M0.00,5.60L0.00,7.80M-2.80,4.85L-3.90,6.75M-4.85,2.80L-6.75,3.90M-5.60,0.00L-7.80,0.00M-4.85,-2.80L-6.75,-3.90M-2.80,-4.85L-3.90,-6.75" stroke="#ff6a00" stroke-width="1.55" stroke-linecap="round" fill="none"/><circle r="4" fill="url(#sg)"/></g><path transform="translate(1015.70,285.70) scale(0.656)" d="M-6.5,5C-8.4,5 -9.3,3.6 -9.3,1.9C-9.3,-0.5 -7.8,-2.2 -5.8,-2.2C-5,-2.2 -4.2,-2 -3.5,-1.5C-2.8,-3.8 -1,-5.3 1.2,-5.3C3.8,-5.3 5.6,-3.5 6,-1C8,-0.8 9.3,0.6 9.3,2.3C9.3,4 8.2,5 6.5,5Z" fill="url(#cb)" stroke="#8cc4e6" stroke-width="1.52"/>
<g transform="translate(1042.00,167.00)"><path d="M0.00,-5.60L0.00,-7.80M2.80,-4.85L3.90,-6.75M4.85,-2.80L6.75,-3.90M5.60,-0.00L7.80,-0.00M4.85,2.80L6.75,3.90M2.80,4.85L3.90,6.75M0.00,5.60L0.00,7.80M-2.80,4.85L-3.90,6.75M-4.85,2.80L-6.75,3.90M-5.60,0.00L-7.80,0.00M-4.85,-2.80L-6.75,-3.90M-2.80,-4.85L-3.90,-6.75" stroke="#ff6a00" stroke-width="1.55" stroke-linecap="round" fill="none"/><circle r="4" fill="url(#sg)"/></g>
<path transform="translate(1074.50,230.50) scale(0.965)" d="M-6.5,5C-8.4,5 -9.3,3.6 -9.3,1.9C-9.3,-0.5 -7.8,-2.2 -5.8,-2.2C-5,-2.2 -4.2,-2 -3.5,-1.5C-2.8,-3.8 -1,-5.3 1.2,-5.3C3.8,-5.3 5.6,-3.5 6,-1C8,-0.8 9.3,0.6 9.3,2.3C9.3,4 8.2,5 6.5,5Z" fill="url(#cg)" stroke="#86c1e6" stroke-width="1.04"/>
<g transform="translate(1105.90,269.75)"><circle r="5.8" fill="#efe9bd"/><circle cx="-1.6" cy="-1.0" r="4.85" fill="#595959" clip-path="url(#mc)"/><circle r="5.7" fill="none" stroke="#4a4a4a" stroke-width="0.9"/></g>
<g transform="translate(1135.20,243.95)"><path d="M0.00,-5.60L0.00,-7.80M2.80,-4.85L3.90,-6.75M4.85,-2.80L6.75,-3.90M5.60,-0.00L7.80,-0.00M4.85,2.80L6.75,3.90M2.80,4.85L3.90,6.75M0.00,5.60L0.00,7.80M-2.80,4.85L-3.90,6.75M-4.85,2.80L-6.75,3.90M-5.60,0.00L-7.80,0.00M-4.85,-2.80L-6.75,-3.90M-2.80,-4.85L-3.90,-6.75" stroke="#ff6a00" stroke-width="1.55" stroke-linecap="round" fill="none"/><circle r="4" fill="url(#sg)"/></g><path transform="translate(1139.40,247.35) scale(0.965)" d="M-6.5,5C-8.4,5 -9.3,3.6 -9.3,1.9C-9.3,-0.5 -7.8,-2.2 -5.8,-2.2C-5,-2.2 -4.2,-2 -3.5,-1.5C-2.8,-3.8 -1,-5.3 1.2,-5.3C3.8,-5.3 5.6,-3.5 6,-1C8,-0.8 9.3,0.6 9.3,2.3C9.3,4 8.2,5 6.5,5Z" fill="url(#cb)" stroke="#6fb0dc" stroke-width="1.04"/>
<g transform="translate(1168.00,177.00)"><path d="M0.00,-5.60L0.00,-7.80M2.80,-4.85L3.90,-6.75M4.85,-2.80L6.75,-3.90M5.60,-0.00L7.80,-0.00M4.85,2.80L6.75,3.90M2.80,4.85L3.90,6.75M0.00,5.60L0.00,7.80M-2.80,4.85L-3.90,6.75M-4.85,2.80L-6.75,3.90M-5.60,0.00L-7.80,0.00M-4.85,-2.80L-6.75,-3.90M-2.80,-4.85L-3.90,-6.75" stroke="#ff6a00" stroke-width="1.55" stroke-linecap="round" fill="none"/><circle r="4" fill="url(#sg)"/></g>
<path transform="translate(1199.50,245.50) scale(0.965)" d="M-6.5,5C-8.4,5 -9.3,3.6 -9.3,1.9C-9.3,-0.5 -7.8,-2.2 -5.8,-2.2C-5,-2.2 -4.2,-2 -3.5,-1.5C-2.8,-3.8 -1,-5.3 1.2,-5.3C3.8,-5.3 5.6,-3.5 6,-1C8,-0.8 9.3,0.6 9.3,2.3C9.3,4 8.2,5 6.5,5Z" fill="url(#cg)" stroke="#86c1e6" stroke-width="1.04"/>
<g transform="translate(1231.75,294.50)"><circle r="5.8" fill="#efe9bd"/><circle cx="-1.6" cy="-1.0" r="4.85" fill="#595959" clip-path="url(#mc)"/><circle r="5.7" fill="none" stroke="#4a4a4a" stroke-width="0.9"/></g>
<g transform="translate(1262.00,294.50)"><path d="M0.00,-5.60L0.00,-7.80M2.80,-4.85L3.90,-6.75M4.85,-2.80L6.75,-3.90M5.60,-0.00L7.80,-0.00M4.85,2.80L6.75,3.90M2.80,4.85L3.90,6.75M0.00,5.60L0.00,7.80M-2.80,4.85L-3.90,6.75M-4.85,2.80L-6.75,3.90M-5.60,0.00L-7.80,0.00M-4.85,-2.80L-6.75,-3.90M-2.80,-4.85L-3.90,-6.75" stroke="#ff6a00" stroke-width="1.55" stroke-linecap="round" fill="none"/><circle r="4" fill="url(#sg)"/></g>
<g transform="translate(1292.15,215.55)"><path d="M0.00,-5.60L0.00,-7.80M2.80,-4.85L3.90,-6.75M4.85,-2.80L6.75,-3.90M5.60,-0.00L7.80,-0.00M4.85,2.80L6.75,3.90M2.80,4.85L3.90,6.75M0.00,5.60L0.00,7.80M-2.80,4.85L-3.90,6.75M-4.85,2.80L-6.75,3.90M-5.60,0.00L-7.80,0.00M-4.85,-2.80L-6.75,-3.90M-2.80,-4.85L-3.90,-6.75" stroke="#ff6a00" stroke-width="1.55" stroke-linecap="round" fill="none"/><circle r="4" fill="url(#sg)"/></g><path transform="translate(1297.95,219.85) scale(0.656)" d="M-6.5,5C-8.4,5 -9.3,3.6 -9.3,1.9C-9.3,-0.5 -7.8,-2.2 -5.8,-2.2C-5,-2.2 -4.2,-2 -3.5,-1.5C-2.8,-3.8 -1,-5.3 1.2,-5.3C3.8,-5.3 5.6,-3.5 6,-1C8,-0.8 9.3,0.6 9.3,2.3C9.3,4 8.2,5 6.5,5Z" fill="url(#cb)" stroke="#8cc4e6" stroke-width="1.52"/>
<path transform="translate(1325.50,290.75) scale(0.965)" d="M-6.5,5C-8.4,5 -9.3,3.6 -9.3,1.9C-9.3,-0.5 -7.8,-2.2 -5.8,-2.2C-5,-2.2 -4.2,-2 -3.5,-1.5C-2.8,-3.8 -1,-5.3 1.2,-5.3C3.8,-5.3 5.6,-3.5 6,-1C8,-0.8 9.3,0.6 9.3,2.3C9.3,4 8.2,5 6.5,5Z" fill="url(#cg)" stroke="#86c1e6" stroke-width="1.04"/>
<g transform="translate(1356.75,336.75)"><circle r="5.8" fill="#efe9bd"/><circle cx="-1.6" cy="-1.0" r="4.85" fill="#595959" clip-path="url(#mc)"/><circle r="5.7" fill="none" stroke="#4a4a4a" stroke-width="0.9"/></g>
<g transform="translate(1386.45,334.70)"><path d="M0.00,-5.60L0.00,-7.80M2.80,-4.85L3.90,-6.75M4.85,-2.80L6.75,-3.90M5.60,-0.00L7.80,-0.00M4.85,2.80L6.75,3.90M2.80,4.85L3.90,6.75M0.00,5.60L0.00,7.80M-2.80,4.85L-3.90,6.75M-4.85,2.80L-6.75,3.90M-5.60,0.00L-7.80,0.00M-4.85,-2.80L-6.75,-3.90M-2.80,-4.85L-3.90,-6.75" stroke="#ff6a00" stroke-width="1.55" stroke-linecap="round" fill="none"/><circle r="4" fill="url(#sg)"/></g><path transform="translate(1390.65,338.10) scale(0.965)" d="M-6.5,5C-8.4,5 -9.3,3.6 -9.3,1.9C-9.3,-0.5 -7.8,-2.2 -5.8,-2.2C-5,-2.2 -4.2,-2 -3.5,-1.5C-2.8,-3.8 -1,-5.3 1.2,-5.3C3.8,-5.3 5.6,-3.5 6,-1C8,-0.8 9.3,0.6 9.3,2.3C9.3,4 8.2,5 6.5,5Z" fill="url(#cb)" stroke="#6fb0dc" stroke-width="1.04"/>
<g transform="translate(1416.45,204.70)"><path d="M0.00,-5.60L0.00,-7.80M2.80,-4.85L3.90,-6.75M4.85,-2.80L6.75,-3.90M5.60,-0.00L7.80,-0.00M4.85,2.80L6.75,3.90M2.80,4.85L3.90,6.75M0.00,5.60L0.00,7.80M-2.80,4.85L-3.90,6.75M-4.85,2.80L-6.75,3.90M-5.60,0.00L-7.80,0.00M-4.85,-2.80L-6.75,-3.90M-2.80,-4.85L-3.90,-6.75" stroke="#ff6a00" stroke-width="1.55" stroke-linecap="round" fill="none"/><circle r="4" fill="url(#sg)"/></g><path transform="translate(1420.65,208.10) scale(0.965)" d="M-6.5,5C-8.4,5 -9.3,3.6 -9.3,1.9C-9.3,-0.5 -7.8,-2.2 -5.8,-2.2C-5,-2.2 -4.2,-2 -3.5,-1.5C-2.8,-3.8 -1,-5.3 1.2,-5.3C3.8,-5.3 5.6,-3.5 6,-1C8,-0.8 9.3,0.6 9.3,2.3C9.3,4 8.2,5 6.5,5Z" fill="url(#cb)" stroke="#6fb0dc" stroke-width="1.04"/>
<g transform="translate(1453.00,271.10)"><circle r="5.8" fill="#efe9bd"/><circle cx="-1.6" cy="-1.0" r="4.85" fill="#595959" clip-path="url(#mc)"/><circle r="5.7" fill="none" stroke="#4a4a4a" stroke-width="0.9"/></g><path transform="translate(1449.90,277.20) scale(0.965)" d="M-6.5,5C-8.4,5 -9.3,3.6 -9.3,1.9C-9.3,-0.5 -7.8,-2.2 -5.8,-2.2C-5,-2.2 -4.2,-2 -3.5,-1.5C-2.8,-3.8 -1,-5.3 1.2,-5.3C3.8,-5.3 5.6,-3.5 6,-1C8,-0.8 9.3,0.6 9.3,2.3C9.3,4 8.2,5 6.5,5Z" fill="url(#cb)" stroke="#74b6e0" stroke-width="1.04"/>
<g transform="translate(1482.50,311.75)"><circle r="5.8" fill="#efe9bd"/><circle cx="-1.6" cy="-1.0" r="4.85" fill="#595959" clip-path="url(#mc)"/><circle r="5.7" fill="none" stroke="#4a4a4a" stroke-width="0.9"/></g>
<g transform="translate(1510.90,318.55)"><path d="M0.00,-5.60L0.00,-7.80M2.80,-4.85L3.90,-6.75M4.85,-2.80L6.75,-3.90M5.60,-0.00L7.80,-0.00M4.85,2.80L6.75,3.90M2.80,4.85L3.90,6.75M0.00,5.60L0.00,7.80M-2.80,4.85L-3.90,6.75M-4.85,2.80L-6.75,3.90M-5.60,0.00L-7.80,0.00M-4.85,-2.80L-6.75,-3.90M-2.80,-4.85L-3.90,-6.75" stroke="#ff6a00" stroke-width="1.55" stroke-linecap="round" fill="none"/><circle r="4" fill="url(#sg)"/></g><path transform="translate(1516.70,322.85) scale(0.656)" d="M-6.5,5C-8.4,5 -9.3,3.6 -9.3,1.9C-9.3,-0.5 -7.8,-2.2 -5.8,-2.2C-5,-2.2 -4.2,-2 -3.5,-1.5C-2.8,-3.8 -1,-5.3 1.2,-5.3C3.8,-5.3 5.6,-3.5 6,-1C8,-0.8 9.3,0.6 9.3,2.3C9.3,4 8.2,5 6.5,5Z" fill="url(#cb)" stroke="#8cc4e6" stroke-width="1.52"/>
<g transform="translate(1545.00,167.00)"><path d="M0.00,-5.60L0.00,-7.80M2.80,-4.85L3.90,-6.75M4.85,-2.80L6.75,-3.90M5.60,-0.00L7.80,-0.00M4.85,2.80L6.75,3.90M2.80,4.85L3.90,6.75M0.00,5.60L0.00,7.80M-2.80,4.85L-3.90,6.75M-4.85,2.80L-6.75,3.90M-5.60,0.00L-7.80,0.00M-4.85,-2.80L-6.75,-3.90M-2.80,-4.85L-3.90,-6.75" stroke="#ff6a00" stroke-width="1.55" stroke-linecap="round" fill="none"/><circle r="4" fill="url(#sg)"/></g>
<path transform="translate(1576.25,245.50) scale(0.965)" d="M-6.5,5C-8.4,5 -9.3,3.6 -9.3,1.9C-9.3,-0.5 -7.8,-2.2 -5.8,-2.2C-5,-2.2 -4.2,-2 -3.5,-1.5C-2.8,-3.8 -1,-5.3 1.2,-5.3C3.8,-5.3 5.6,-3.5 6,-1C8,-0.8 9.3,0.6 9.3,2.3C9.3,4 8.2,5 6.5,5Z" fill="url(#cg)" stroke="#86c1e6" stroke-width="1.04"/>
<path transform="translate(1607.50,283.25) scale(0.965)" d="M-6.5,5C-8.4,5 -9.3,3.6 -9.3,1.9C-9.3,-0.5 -7.8,-2.2 -5.8,-2.2C-5,-2.2 -4.2,-2 -3.5,-1.5C-2.8,-3.8 -1,-5.3 1.2,-5.3C3.8,-5.3 5.6,-3.5 6,-1C8,-0.8 9.3,0.6 9.3,2.3C9.3,4 8.2,5 6.5,5Z" fill="url(#cg)" stroke="#86c1e6" stroke-width="1.04"/>
<g transform="translate(1638.75,289.50)"><path d="M0.00,-5.60L0.00,-7.80M2.80,-4.85L3.90,-6.75M4.85,-2.80L6.75,-3.90M5.60,-0.00L7.80,-0.00M4.85,2.80L6.75,3.90M2.80,4.85L3.90,6.75M0.00,5.60L0.00,7.80M-2.80,4.85L-3.90,6.75M-4.85,2.80L-6.75,3.90M-5.60,0.00L-7.80,0.00M-4.85,-2.80L-6.75,-3.90M-2.80,-4.85L-3.90,-6.75" stroke="#ff6a00" stroke-width="1.55" stroke-linecap="round" fill="none"/><circle r="4" fill="url(#sg)"/></g>
<g transform="translate(1670.00,146.25)"><path d="M0.00,-5.60L0.00,-7.80M2.80,-4.85L3.90,-6.75M4.85,-2.80L6.75,-3.90M5.60,-0.00L7.80,-0.00M4.85,2.80L6.75,3.90M2.80,4.85L3.90,6.75M0.00,5.60L0.00,7.80M-2.80,4.85L-3.90,6.75M-4.85,2.80L-6.75,3.90M-5.60,0.00L-7.80,0.00M-4.85,-2.80L-6.75,-3.90M-2.80,-4.85L-3.90,-6.75" stroke="#ff6a00" stroke-width="1.55" stroke-linecap="round" fill="none"/><circle r="4" fill="url(#sg)"/></g>
<g transform="translate(1702.50,247.00)"><circle r="5.8" fill="#efe9bd"/><circle cx="-1.6" cy="-1.0" r="4.85" fill="#595959" clip-path="url(#mc)"/><circle r="5.7" fill="none" stroke="#4a4a4a" stroke-width="0.9"/></g>
<g transform="translate(1733.75,283.75)"><circle r="5.8" fill="#efe9bd"/><circle cx="-1.6" cy="-1.0" r="4.85" fill="#595959" clip-path="url(#mc)"/><circle r="5.7" fill="none" stroke="#4a4a4a" stroke-width="0.9"/></g>
<g transform="translate(1763.75,302.00)"><path d="M0.00,-5.60L0.00,-7.80M2.80,-4.85L3.90,-6.75M4.85,-2.80L6.75,-3.90M5.60,-0.00L7.80,-0.00M4.85,2.80L6.75,3.90M2.80,4.85L3.90,6.75M0.00,5.60L0.00,7.80M-2.80,4.85L-3.90,6.75M-4.85,2.80L-6.75,3.90M-5.60,0.00L-7.80,0.00M-4.85,-2.80L-6.75,-3.90M-2.80,-4.85L-3.90,-6.75" stroke="#ff6a00" stroke-width="1.55" stroke-linecap="round" fill="none"/><circle r="4" fill="url(#sg)"/></g>
<g transform="translate(1796.25,180.00)"><path d="M0.00,-5.60L0.00,-7.80M2.80,-4.85L3.90,-6.75M4.85,-2.80L6.75,-3.90M5.60,-0.00L7.80,-0.00M4.85,2.80L6.75,3.90M2.80,4.85L3.90,6.75M0.00,5.60L0.00,7.80M-2.80,4.85L-3.90,6.75M-4.85,2.80L-6.75,3.90M-5.60,0.00L-7.80,0.00M-4.85,-2.80L-6.75,-3.90M-2.80,-4.85L-3.90,-6.75" stroke="#ff6a00" stroke-width="1.55" stroke-linecap="round" fill="none"/><circle r="4" fill="url(#sg)"/></g>
<g transform="translate(1828.00,263.75)"><circle r="5.8" fill="#efe9bd"/><circle cx="-1.6" cy="-1.0" r="4.85" fill="#595959" clip-path="url(#mc)"/><circle r="5.7" fill="none" stroke="#4a4a4a" stroke-width="0.9"/></g>
<text x="72.44" y="196.02" font-size="7.6" fill="#000" text-anchor="middle" font-weight="bold" textLength="12.8" lengthAdjust="spacingAndGlyphs" stroke="#fff" stroke-width="1.6" stroke-linejoin="round">4.1</text>
<text x="72.44" y="196.02" font-size="7.6" fill="#000" text-anchor="middle" font-weight="bold" textLength="12.8" lengthAdjust="spacingAndGlyphs" stroke="#000" stroke-width="0.35">4.1</text>
<text x="88.13" y="423.77" font-size="7.6" fill="#000" text-anchor="middle" font-weight="bold" textLength="12.8" lengthAdjust="spacingAndGlyphs" stroke="#fff" stroke-width="1.6" stroke-linejoin="round">0.1</text>
<text x="88.13" y="423.77" font-size="7.6" fill="#000" text-anchor="middle" font-weight="bold" textLength="12.8" lengthAdjust="spacingAndGlyphs" stroke="#000" stroke-width="0.35">0.1</text>
<text x="182.31" y="340.08" font-size="7.6" fill="#000" text-anchor="middle" font-weight="bold" textLength="12.8" lengthAdjust="spacingAndGlyphs" stroke="#fff" stroke-width="1.6" stroke-linejoin="round">1.6</text>
<text x="182.31" y="340.08" font-size="7.6" fill="#000" text-anchor="middle" font-weight="bold" textLength="12.8" lengthAdjust="spacingAndGlyphs" stroke="#000" stroke-width="0.35">1.6</text>
<text x="198.00" y="363.95" font-size="7.6" fill="#000" text-anchor="middle" font-weight="bold" textLength="12.8" lengthAdjust="spacingAndGlyphs" stroke="#fff" stroke-width="1.6" stroke-linejoin="round">1.1</text>
<text x="198.00" y="363.95" font-size="7.6" fill="#000" text-anchor="middle" font-weight="bold" textLength="12.8" lengthAdjust="spacingAndGlyphs" stroke="#000" stroke-width="0.35">1.1</text>
<text x="245.09" y="423.77" font-size="7.6" fill="#000" text-anchor="middle" font-weight="bold" textLength="12.8" lengthAdjust="spacingAndGlyphs" stroke="#fff" stroke-width="1.6" stroke-linejoin="round">0.1</text>
<text x="245.09" y="423.77" font-size="7.6" fill="#000" text-anchor="middle" font-weight="bold" textLength="12.8" lengthAdjust="spacingAndGlyphs" stroke="#000" stroke-width="0.35">0.1</text>
<text x="260.78" y="410.01" font-size="7.6" fill="#000" text-anchor="middle" font-weight="bold" textLength="12.8" lengthAdjust="spacingAndGlyphs" stroke="#fff" stroke-width="1.6" stroke-linejoin="round">0.3</text>
<text x="260.78" y="410.01" font-size="7.6" fill="#000" text-anchor="middle" font-weight="bold" textLength="12.8" lengthAdjust="spacingAndGlyphs" stroke="#000" stroke-width="0.35">0.3</text>
<text x="292.17" y="423.77" font-size="7.6" fill="#000" text-anchor="middle" font-weight="bold" textLength="12.8" lengthAdjust="spacingAndGlyphs" stroke="#fff" stroke-width="1.6" stroke-linejoin="round">0.1</text>
<text x="292.17" y="423.77" font-size="7.6" fill="#000" text-anchor="middle" font-weight="bold" textLength="12.8" lengthAdjust="spacingAndGlyphs" stroke="#000" stroke-width="0.35">0.1</text>
<text x="417.74" y="422.93" font-size="7.6" fill="#000" text-anchor="middle" font-weight="bold" textLength="12.8" lengthAdjust="spacingAndGlyphs" stroke="#fff" stroke-width="1.6" stroke-linejoin="round">0.1</text>
<text x="417.74" y="422.93" font-size="7.6" fill="#000" text-anchor="middle" font-weight="bold" textLength="12.8" lengthAdjust="spacingAndGlyphs" stroke="#000" stroke-width="0.35">0.1</text>
<text x="857.21" y="424.05" font-size="7.6" fill="#000" text-anchor="middle" font-weight="bold" textLength="12.8" lengthAdjust="spacingAndGlyphs" stroke="#fff" stroke-width="1.6" stroke-linejoin="round">0.1</text>
<text x="857.21" y="424.05" font-size="7.6" fill="#000" text-anchor="middle" font-weight="bold" textLength="12.8" lengthAdjust="spacingAndGlyphs" stroke="#000" stroke-width="0.35">0.1</text>
<text x="872.90" y="424.05" font-size="7.6" fill="#000" text-anchor="middle" font-weight="bold" textLength="12.8" lengthAdjust="spacingAndGlyphs" stroke="#fff" stroke-width="1.6" stroke-linejoin="round">0.1</text>
<text x="872.90" y="424.05" font-size="7.6" fill="#000" text-anchor="middle" font-weight="bold" textLength="12.8" lengthAdjust="spacingAndGlyphs" stroke="#000" stroke-width="0.35">0.1</text>
<text x="982.77" y="422.93" font-size="7.6" fill="#000" text-anchor="middle" font-weight="bold" textLength="12.8" lengthAdjust="spacingAndGlyphs" stroke="#fff" stroke-width="1.6" stroke-linejoin="round">0.1</text>
<text x="982.77" y="422.93" font-size="7.6" fill="#000" text-anchor="middle" font-weight="bold" textLength="12.8" lengthAdjust="spacingAndGlyphs" stroke="#000" stroke-width="0.35">0.1</text>
<text x="998.47" y="424.05" font-size="7.6" fill="#000" text-anchor="middle" font-weight="bold" textLength="12.8" lengthAdjust="spacingAndGlyphs" stroke="#fff" stroke-width="1.6" stroke-linejoin="round">0.1</text>
<text x="998.47" y="424.05" font-size="7.6" fill="#000" text-anchor="middle" font-weight="bold" textLength="12.8" lengthAdjust="spacingAndGlyphs" stroke="#000" stroke-width="0.35">0.1</text>
<text x="1155.42" y="423.77" font-size="7.6" fill="#000" text-anchor="middle" font-weight="bold" textLength="12.8" lengthAdjust="spacingAndGlyphs" stroke="#fff" stroke-width="1.6" stroke-linejoin="round">0.1</text>
<text x="1155.42" y="423.77" font-size="7.6" fill="#000" text-anchor="middle" font-weight="bold" textLength="12.8" lengthAdjust="spacingAndGlyphs" stroke="#000" stroke-width="0.35">0.1</text>
<text x="1280.98" y="423.77" font-size="7.6" fill="#000" text-anchor="middle" font-weight="bold" textLength="12.8" lengthAdjust="spacingAndGlyphs" stroke="#fff" stroke-width="1.6" stroke-linejoin="round">0.1</text>
<text x="1280.98" y="423.77" font-size="7.6" fill="#000" text-anchor="middle" font-weight="bold" textLength="12.8" lengthAdjust="spacingAndGlyphs" stroke="#000" stroke-width="0.35">0.1</text>
<text x="1689.06" y="423.77" font-size="7.6" fill="#000" text-anchor="middle" font-weight="bold" textLength="12.8" lengthAdjust="spacingAndGlyphs" stroke="#fff" stroke-width="1.6" stroke-linejoin="round">0.1</text>
<text x="1689.06" y="423.77" font-size="7.6" fill="#000" text-anchor="middle" font-weight="bold" textLength="12.8" lengthAdjust="spacingAndGlyphs" stroke="#000" stroke-width="0.35">0.1</text>
<path d="M32.5,465.5H1837.5M32.5,463V467.5M37.5,463V467.5M42.5,463V467.5M48.5,463V467.5M53.5,463V467.5M58.5,463V467.5M63.5,463V467.5M69.5,463V467.5M74.5,463V467.5M79.5,463V467.5M84.5,463V467.5M90.5,463V467.5M95.5,463V467.5M100.5,463V467.5M105.5,463V467.5M110.5,463V467.5M116.5,463V467.5M121.5,463V467.5M126.5,463V467.5M131.5,463V467.5M137.5,463V467.5M142.5,463V467.5M147.5,463V467.5M152.5,463V467.5M158.5,463V467.5M163.5,463V467.5M168.5,463V467.5M173.5,463V467.5M178.5,463V467.5M184.5,463V467.5M189.5,463V467.5M194.5,463V467.5M199.5,463V467.5M205.5,463V467.5M210.5,463V467.5M215.5,463V467.5M220.5,463V467.5M226.5,463V467.5M231.5,463V467.5M236.5,463V467.5M241.5,463V467.5M247.5,463V467.5M252.5,463V467.5M257.5,463V467.5M262.5,463V467.5M267.5,463V467.5M273.5,463V467.5M278.5,463V467.5M283.5,463V467.5M288.5,463V467.5M294.5,463V467.5M299.5,463V467.5M304.5,463V467.5M309.5,463V467.5M315.5,463V467.5M320.5,463V467.5M325.5,463V467.5M330.5,463V467.5M335.5,463V467.5M341.5,463V467.5M346.5,463V467.5M351.5,463V467.5M356.5,463V467.5M362.5,463V467.5M367.5,463V467.5M372.5,463V467.5M377.5,463V467.5M383.5,463V467.5M388.5,463V467.5M393.5,463V467.5M398.5,463V467.5M403.5,463V467.5M409.5,463V467.5M414.5,463V467.5M419.5,463V467.5M424.5,463V467.5M430.5,463V467.5M435.5,463V467.5M440.5,463V467.5M445.5,463V467.5M451.5,463V467.5M456.5,463V467.5M461.5,463V467.5M466.5,463V467.5M471.5,463V467.5M477.5,463V467.5M482.5,463V467.5M487.5,463V467.5M492.5,463V467.5M498.5,463V467.5M503.5,463V467.5M508.5,463V467.5M513.5,463V467.5M519.5,463V467.5M524.5,463V467.5M529.5,463V467.5M534.5,463V467.5M539.5,463V467.5M545.5,463V467.5M550.5,463V467.5M555.5,463V467.5M560.5,463V467.5M566.5,463V467.5M571.5,463V467.5M576.5,463V467.5M581.5,463V467.5M587.5,463V467.5M592.5,463V467.5M597.5,463V467.5M602.5,463V467.5M607.5,463V467.5M613.5,463V467.5M618.5,463V467.5M623.5,463V467.5M628.5,463V467.5M634.5,463V467.5M639.5,463V467.5M644.5,463V467.5M649.5,463V467.5M655.5,463V467.5M660.5,463V467.5M665.5,463V467.5M670.5,463V467.5M676.5,463V467.5M681.5,463V467.5M686.5,463V467.5M691.5,463V467.5M696.5,463V467.5M702.5,463V467.5M707.5,463V467.5M712.5,463V467.5M717.5,463V467.5M723.5,463V467.5M728.5,463V467.5M733.5,463V467.5M738.5,463V467.5M744.5,463V467.5M749.5,463V467.5M754.5,463V467.5M759.5,463V467.5M764.5,463V467.5M770.5,463V467.5M775.5,463V467.5M780.5,463V467.5M785.5,463V467.5M791.5,463V467.5M796.5,463V467.5M801.5,463V467.5M806.5,463V467.5M812.5,463V467.5M817.5,463V467.5M822.5,463V467.5M827.5,463V467.5M832.5,463V467.5M838.5,463V467.5M843.5,463V467.5M848.5,463V467.5M853.5,463V467.5M859.5,463V467.5M864.5,463V467.5M869.5,463V467.5M874.5,463V467.5M880.5,463V467.5M885.5,463V467.5M890.5,463V467.5M895.5,463V467.5M900.5,463V467.5M906.5,463V467.5M911.5,463V467.5M916.5,463V467.5M921.5,463V467.5M927.5,463V467.5M932.5,463V467.5M937.5,463V467.5M942.5,463V467.5M948.5,463V467.5M953.5,463V467.5M958.5,463V467.5M963.5,463V467.5M968.5,463V467.5M974.5,463V467.5M979.5,463V467.5M984.5,463V467.5M989.5,463V467.5M995.5,463V467.5M1000.5,463V467.5M1005.5,463V467.5M1010.5,463V467.5M1016.5,463V467.5M1021.5,463V467.5M1026.5,463V467.5M1031.5,463V467.5M1037.5,463V467.5M1042.5,463V467.5M1047.5,463V467.5M1052.5,463V467.5M1057.5,463V467.5M1063.5,463V467.5M1068.5,463V467.5M1073.5,463V467.5M1078.5,463V467.5M1084.5,463V467.5M1089.5,463V467.5M1094.5,463V467.5M1099.5,463V467.5M1105.5,463V467.5M1110.5,463V467.5M1115.5,463V467.5M1120.5,463V467.5M1125.5,463V467.5M1131.5,463V467.5M1136.5,463V467.5M1141.5,463V467.5M1146.5,463V467.5M1152.5,463V467.5M1157.5,463V467.5M1162.5,463V467.5M1167.5,463V467.5M1173.5,463V467.5M1178.5,463V467.5M1183.5,463V467.5M1188.5,463V467.5M1193.5,463V467.5M1199.5,463V467.5M1204.5,463V467.5M1209.5,463V467.5M1214.5,463V467.5M1220.5,463V467.5M1225.5,463V467.5M1230.5,463V467.5M1235.5,463V467.5M1241.5,463V467.5M1246.5,463V467.5M1251.5,463V467.5M1256.5,463V467.5M1261.5,463V467.5M1267.5,463V467.5M1272.5,463V467.5M1277.5,463V467.5M1282.5,463V467.5M1288.5,463V467.5M1293.5,463V467.5M1298.5,463V467.5M1303.5,463V467.5M1309.5,463V467.5M1314.5,463V467.5M1319.5,463V467.5M1324.5,463V467.5M1329.5,463V467.5M1335.5,463V467.5M1340.5,463V467.5M1345.5,463V467.5M1350.5,463V467.5M1356.5,463V467.5M1361.5,463V467.5M1366.5,463V467.5M1371.5,463V467.5M1377.5,463V467.5M1382.5,463V467.5M1387.5,463V467.5M1392.5,463V467.5M1397.5,463V467.5M1403.5,463V467.5M1408.5,463V467.5M1413.5,463V467.5M1418.5,463V467.5M1424.5,463V467.5M1429.5,463V467.5M1434.5,463V467.5M1439.5,463V467.5M1445.5,463V467.5M1450.5,463V467.5M1455.5,463V467.5M1460.5,463V467.5M1466.5,463V467.5M1471.5,463V467.5M1476.5,463V467.5M1481.5,463V467.5M1486.5,463V467.5M1492.5,463V467.5M1497.5,463V467.5M1502.5,463V467.5M1507.5,463V467.5M1513.5,463V467.5M1518.5,463V467.5M1523.5,463V467.5M1528.5,463V467.5M1534.5,463V467.5M1539.5,463V467.5M1544.5,463V467.5M1549.5,463V467.5M1554.5,463V467.5M1560.5,463V467.5M1565.5,463V467.5M1570.5,463V467.5M1575.5,463V467.5M1581.5,463V467.5M1586.5,463V467.5M1591.5,463V467.5M1596.5,463V467.5M1602.5,463V467.5M1607.5,463V467.5M1612.5,463V467.5M1617.5,463V467.5M1622.5,463V467.5M1628.5,463V467.5M1633.5,463V467.5M1638.5,463V467.5M1643.5,463V467.5M1649.5,463V467.5M1654.5,463V467.5M1659.5,463V467.5M1664.5,463V467.5M1670.5,463V467.5M1675.5,463V467.5M1680.5,463V467.5M1685.5,463V467.5M1690.5,463V467.5M1696.5,463V467.5M1701.5,463V467.5M1706.5,463V467.5M1711.5,463V467.5M1717.5,463V467.5M1722.5,463V467.5M1727.5,463V467.5M1732.5,463V467.5M1738.5,463V467.5M1743.5,463V467.5M1748.5,463V467.5M1753.5,463V467.5M1758.5,463V467.5M1764.5,463V467.5M1769.5,463V467.5M1774.5,463V467.5M1779.5,463V467.5M1785.5,463V467.5M1790.5,463V467.5M1795.5,463V467.5M1800.5,463V467.5M1806.5,463V467.5M1811.5,463V467.5M1816.5,463V467.5M1821.5,463V467.5" stroke="#ccd6eb" stroke-width="1" fill="none"/>
<path d="M48.5,435.5V467M63.5,435.5V467M79.5,435.5V467M95.5,435.5V467M110.5,435.5V467M126.5,435.5V467M142.5,435.5V467M158.5,435.5V467M173.5,435.5V467M189.5,435.5V467M205.5,435.5V467M220.5,435.5V467M236.5,435.5V467M252.5,435.5V467M267.5,435.5V467M283.5,435.5V467M299.5,435.5V467M315.5,435.5V467M330.5,435.5V467M346.5,435.5V467M362.5,435.5V467M377.5,435.5V467M393.5,435.5V467M409.5,435.5V467M424.5,435.5V467M440.5,435.5V467M456.5,435.5V467M471.5,435.5V467M487.5,435.5V467M503.5,435.5V467M519.5,435.5V467M534.5,435.5V467M550.5,435.5V467M566.5,435.5V467M581.5,435.5V467M597.5,435.5V467M613.5,435.5V467M628.5,435.5V467M644.5,435.5V467M660.5,435.5V467M676.5,435.5V467M691.5,435.5V467M707.5,435.5V467M723.5,435.5V467M738.5,435.5V467M754.5,435.5V467M770.5,435.5V467M785.5,435.5V467M801.5,435.5V467M817.5,435.5V467M832.5,435.5V467M848.5,435.5V467M864.5,435.5V467M880.5,435.5V467M895.5,435.5V467M911.5,435.5V467M927.5,435.5V467M942.5,435.5V467M958.5,435.5V467M974.5,435.5V467M989.5,435.5V467M1005.5,435.5V467M1021.5,435.5V467M1037.5,435.5V467M1052.5,435.5V467M1068.5,435.5V467M1084.5,435.5V467M1099.5,435.5V467M1115.5,435.5V467M1131.5,435.5V467M1146.5,435.5V467M1162.5,435.5V467M1178.5,435.5V467M1193.5,435.5V467M1209.5,435.5V467M1225.5,435.5V467M1241.5,435.5V467M1256.5,435.5V467M1272.5,435.5V467M1288.5,435.5V467M1303.5,435.5V467M1319.5,435.5V467M1335.5,435.5V467M1350.5,435.5V467M1366.5,435.5V467M1382.5,435.5V467M1397.5,435.5V467M1413.5,435.5V467M1429.5,435.5V467M1445.5,435.5V467M1460.5,435.5V467M1476.5,435.5V467M1492.5,435.5V467M1507.5,435.5V467M1523.5,435.5V467M1539.5,435.5V467M1554.5,435.5V467M1570.5,435.5V467M1586.5,435.5V467M1602.5,435.5V467M1617.5,435.5V467M1633.5,435.5V467M1649.5,435.5V467M1664.5,435.5V467M1680.5,435.5V467M1696.5,435.5V467M1711.5,435.5V467M1727.5,435.5V467M1743.5,435.5V467M1758.5,435.5V467M1774.5,435.5V467M1790.5,435.5V467M1806.5,435.5V467M1821.5,435.5V467" stroke="#cccccc" stroke-width="1" fill="none"/>
<g transform="translate(48.70,449.60) rotate(90)"><path d="M0,7V-10M0,-8H4" fill="none" stroke="#000" stroke-width="1.5" stroke-linejoin="miter"/><path d="M-2.8,5.6L0,11 2.8,5.6Z" fill="#000"/></g>
<g transform="translate(95.78,449.60) rotate(183)"><path d="M0,7V-10" fill="none" stroke="#000" stroke-width="1.5" stroke-linejoin="miter"/><path d="M-2.8,5.6L0,11 2.8,5.6Z" fill="#000"/></g>
<g transform="translate(142.87,449.60) rotate(181)"><path d="M0,7V-10M0,-8H4" fill="none" stroke="#000" stroke-width="1.5" stroke-linejoin="miter"/><path d="M-2.8,5.6L0,11 2.8,5.6Z" fill="#000"/></g>
<g transform="translate(189.95,449.60) rotate(201)"><path d="M0,7V-10M0,-8H4" fill="none" stroke="#000" stroke-width="1.5" stroke-linejoin="miter"/><path d="M-2.8,5.6L0,11 2.8,5.6Z" fill="#000"/></g>
<g transform="translate(237.04,449.60) rotate(166)"><path d="M0,7V-10M0,-8H4" fill="none" stroke="#000" stroke-width="1.5" stroke-linejoin="miter"/><path d="M-2.8,5.6L0,11 2.8,5.6Z" fill="#000"/></g>
<g transform="translate(284.13,449.60) rotate(189)"><path d="M0,7V-10" fill="none" stroke="#000" stroke-width="1.5" stroke-linejoin="miter"/><path d="M-2.8,5.6L0,11 2.8,5.6Z" fill="#000"/></g>
<g transform="translate(331.21,449.60) rotate(350.5)"><path d="M0,7V-10" fill="none" stroke="#000" stroke-width="1.5" stroke-linejoin="miter"/><path d="M-2.8,5.6L0,11 2.8,5.6Z" fill="#000"/></g>
<g transform="translate(378.30,449.60) rotate(293.5)"><path d="M0,7V-10" fill="none" stroke="#000" stroke-width="1.5" stroke-linejoin="miter"/><path d="M-2.8,5.6L0,11 2.8,5.6Z" fill="#000"/></g>
<g transform="translate(425.38,449.60) rotate(312.8)"><path d="M0,7V-10M0,-8H4" fill="none" stroke="#000" stroke-width="1.5" stroke-linejoin="miter"/><path d="M-2.8,5.6L0,11 2.8,5.6Z" fill="#000"/></g>
<g transform="translate(472.47,449.60) rotate(308.8)"><path d="M0,7V-10M0,-8H4" fill="none" stroke="#000" stroke-width="1.5" stroke-linejoin="miter"/><path d="M-2.8,5.6L0,11 2.8,5.6Z" fill="#000"/></g>
<g transform="translate(519.56,449.60) rotate(100.4)"><path d="M0,7V-10" fill="none" stroke="#000" stroke-width="1.5" stroke-linejoin="miter"/><path d="M-2.8,5.6L0,11 2.8,5.6Z" fill="#000"/></g>
<g transform="translate(566.64,449.60) rotate(171.3)"><path d="M0,7V-10M0,-8H4" fill="none" stroke="#000" stroke-width="1.5" stroke-linejoin="miter"/><path d="M-2.8,5.6L0,11 2.8,5.6Z" fill="#000"/></g>
<g transform="translate(613.73,449.60) rotate(137.2)"><path d="M0,7V-10H7" fill="none" stroke="#000" stroke-width="1.5" stroke-linejoin="miter"/><path d="M-2.8,5.6L0,11 2.8,5.6Z" fill="#000"/></g>
<g transform="translate(660.82,449.60) rotate(156.5)"><path d="M0,7V-10H7" fill="none" stroke="#000" stroke-width="1.5" stroke-linejoin="miter"/><path d="M-2.8,5.6L0,11 2.8,5.6Z" fill="#000"/></g>
<g transform="translate(707.90,449.60) rotate(311.9)"><path d="M0,7V-10H7" fill="none" stroke="#000" stroke-width="1.5" stroke-linejoin="miter"/><path d="M-2.8,5.6L0,11 2.8,5.6Z" fill="#000"/></g>
<g transform="translate(754.99,449.60) rotate(258.5)"><path d="M0,7V-10M0,-8H4" fill="none" stroke="#000" stroke-width="1.5" stroke-linejoin="miter"/><path d="M-2.8,5.6L0,11 2.8,5.6Z" fill="#000"/></g>
<g transform="translate(802.07,449.60) rotate(297.6)"><path d="M0,7V-10H7" fill="none" stroke="#000" stroke-width="1.5" stroke-linejoin="miter"/><path d="M-2.8,5.6L0,11 2.8,5.6Z" fill="#000"/></g>
<g transform="translate(849.16,449.60) rotate(299.7)"><path d="M0,7V-10H7" fill="none" stroke="#000" stroke-width="1.5" stroke-linejoin="miter"/><path d="M-2.8,5.6L0,11 2.8,5.6Z" fill="#000"/></g>
<g transform="translate(896.25,449.60) rotate(294.4)"><path d="M0,7V-10M0,-8H4" fill="none" stroke="#000" stroke-width="1.5" stroke-linejoin="miter"/><path d="M-2.8,5.6L0,11 2.8,5.6Z" fill="#000"/></g>
<g transform="translate(943.33,449.60) rotate(296.8)"><path d="M0,7V-10H7" fill="none" stroke="#000" stroke-width="1.5" stroke-linejoin="miter"/><path d="M-2.8,5.6L0,11 2.8,5.6Z" fill="#000"/></g>
<g transform="translate(990.42,449.60) rotate(254.1)"><path d="M0,7V-10M0,-8H4" fill="none" stroke="#000" stroke-width="1.5" stroke-linejoin="miter"/><path d="M-2.8,5.6L0,11 2.8,5.6Z" fill="#000"/></g>
<g transform="translate(1037.51,449.60) rotate(276.7)"><path d="M0,7V-10M0,-8H4" fill="none" stroke="#000" stroke-width="1.5" stroke-linejoin="miter"/><path d="M-2.8,5.6L0,11 2.8,5.6Z" fill="#000"/></g>
<g transform="translate(1084.59,449.60) rotate(301.8)"><path d="M0,7V-10M0,-8H4" fill="none" stroke="#000" stroke-width="1.5" stroke-linejoin="miter"/><path d="M-2.8,5.6L0,11 2.8,5.6Z" fill="#000"/></g>
<g transform="translate(1131.68,449.60) rotate(253.3)"><path d="M0,7V-10H7" fill="none" stroke="#000" stroke-width="1.5" stroke-linejoin="miter"/><path d="M-2.8,5.6L0,11 2.8,5.6Z" fill="#000"/></g>
<g transform="translate(1178.76,449.60) rotate(306.4)"><path d="M0,7V-10H7M0,-7H4" fill="none" stroke="#000" stroke-width="1.5" stroke-linejoin="miter"/><path d="M-2.8,5.6L0,11 2.8,5.6Z" fill="#000"/></g>
<g transform="translate(1225.85,449.60) rotate(313.1)"><path d="M0,7V-10M0,-8H4" fill="none" stroke="#000" stroke-width="1.5" stroke-linejoin="miter"/><path d="M-2.8,5.6L0,11 2.8,5.6Z" fill="#000"/></g>
<g transform="translate(1272.94,449.60) rotate(15.2)"><path d="M0,7V-10M0,-8H4" fill="none" stroke="#000" stroke-width="1.5" stroke-linejoin="miter"/><path d="M-2.8,5.6L0,11 2.8,5.6Z" fill="#000"/></g>
<g transform="translate(1320.02,449.60) rotate(61.6)"><path d="M0,7V-10H7" fill="none" stroke="#000" stroke-width="1.5" stroke-linejoin="miter"/><path d="M-2.8,5.6L0,11 2.8,5.6Z" fill="#000"/></g>
<g transform="translate(1367.11,449.60) rotate(112.2)"><path d="M0,7V-10M0,-8H4" fill="none" stroke="#000" stroke-width="1.5" stroke-linejoin="miter"/><path d="M-2.8,5.6L0,11 2.8,5.6Z" fill="#000"/></g>
<g transform="translate(1414.20,449.60) rotate(143.1)"><path d="M0,7V-10M0,-8H4" fill="none" stroke="#000" stroke-width="1.5" stroke-linejoin="miter"/><path d="M-2.8,5.6L0,11 2.8,5.6Z" fill="#000"/></g>
<g transform="translate(1461.28,449.60) rotate(138.6)"><path d="M0,7V-10M0,-8H4" fill="none" stroke="#000" stroke-width="1.5" stroke-linejoin="miter"/><path d="M-2.8,5.6L0,11 2.8,5.6Z" fill="#000"/></g>
<g transform="translate(1508.37,449.60) rotate(155.6)"><path d="M0,7V-10M0,-8H4" fill="none" stroke="#000" stroke-width="1.5" stroke-linejoin="miter"/><path d="M-2.8,5.6L0,11 2.8,5.6Z" fill="#000"/></g>
<g transform="translate(1555.45,449.60) rotate(213.4)"><path d="M0,7V-10M0,-8H4" fill="none" stroke="#000" stroke-width="1.5" stroke-linejoin="miter"/><path d="M-2.8,5.6L0,11 2.8,5.6Z" fill="#000"/></g>
<g transform="translate(1602.54,449.60) rotate(244.5)"><path d="M0,7V-10" fill="none" stroke="#000" stroke-width="1.5" stroke-linejoin="miter"/><path d="M-2.8,5.6L0,11 2.8,5.6Z" fill="#000"/></g>
<g transform="translate(1649.63,449.60) rotate(253.4)"><path d="M0,7V-10M0,-8H4" fill="none" stroke="#000" stroke-width="1.5" stroke-linejoin="miter"/><path d="M-2.8,5.6L0,11 2.8,5.6Z" fill="#000"/></g>
<g transform="translate(1696.71,449.60) rotate(302.5)"><path d="M0,7V-10H7" fill="none" stroke="#000" stroke-width="1.5" stroke-linejoin="miter"/><path d="M-2.8,5.6L0,11 2.8,5.6Z" fill="#000"/></g>
<g transform="translate(1743.80,449.60) rotate(305.3)"><path d="M0,7V-10M0,-8H4" fill="none" stroke="#000" stroke-width="1.5" stroke-linejoin="miter"/><path d="M-2.8,5.6L0,11 2.8,5.6Z" fill="#000"/></g>
<g transform="translate(1790.88,449.60) rotate(30.7)"><path d="M0,7V-10M0,-8H4" fill="none" stroke="#000" stroke-width="1.5" stroke-linejoin="miter"/><path d="M-2.8,5.6L0,11 2.8,5.6Z" fill="#000"/></g>
<g transform="translate(1837.97,449.60) rotate(64.3)"><path d="M0,7V-10M0,-8H4" fill="none" stroke="#000" stroke-width="1.5" stroke-linejoin="miter"/><path d="M-2.8,5.6L0,11 2.8,5.6Z" fill="#000"/></g>
<text x="942.5" y="27.7" font-size="14.6" fill="#333" text-anchor="middle" textLength="276" lengthAdjust="spacingAndGlyphs">GFS Hamburg 20038 (DE) 53.5N, 10E</text>
<text x="808.7" y="40.7" font-size="12" fill="#666" textLength="147.5" lengthAdjust="spacingAndGlyphs">Init: Thu, 08Sep2022 12Z</text>
<text x="983.2" y="40.7" font-size="12" fill="#666" textLength="32" lengthAdjust="spacingAndGlyphs">06:45</text>
<text x="1044" y="40.7" font-size="12" fill="#666" textLength="32" lengthAdjust="spacingAndGlyphs">19:49</text>
<g transform="translate(961,29)" stroke="#000" fill="none" stroke-width="1.3"><path d="M0,17.2H18" stroke-width="1.3"/><path d="M5.2,17A3.8,3.8 0 0 1 12.8,17" stroke-width="1.4"/><path d="M9,8.8V11.3M4.3,10.4L5.6,12.6M13.7,10.4L12.4,12.6M0.9,12.9L3.5,14.4M17.1,12.9L14.5,14.4" stroke-width="1.4"/><path d="M9,7V2.5" stroke-width="1.7"/><path d="M6.5,3.3L9,0 11.5,3.3Z" fill="#000" stroke="none"/></g>
<g transform="translate(1020,29)" stroke="#000" fill="none" stroke-width="1.3"><path d="M0,17.2H18" stroke-width="1.3"/><path d="M5.2,17A3.8,3.8 0 0 1 12.8,17" stroke-width="1.4"/><path d="M9,8.8V11.3M4.3,10.4L5.6,12.6M13.7,10.4L12.4,12.6M0.9,12.9L3.5,14.4M17.1,12.9L14.5,14.4" stroke-width="1.4"/><path d="M9,0.2V4.6" stroke-width="1.7"/><path d="M6.5,3.9L9,7.2 11.5,3.9Z" fill="#000" stroke="none"/></g>
<path d="M1850,21.5H1864M1850,26.5H1864M1850,31.5H1864" stroke="#666" stroke-width="3" stroke-linecap="round"/>
<text x="88.3" y="75.6" font-size="11.5" fill="#666" font-weight="bold" textLength="15.9" lengthAdjust="spacingAndGlyphs">Fri</text>
<text x="106.6" y="75.6" font-size="11.5" fill="#666" textLength="30.1" lengthAdjust="spacingAndGlyphs">Sep 9</text>
<text x="214.3" y="75.6" font-size="11.5" fill="#666" font-weight="bold" textLength="19.0" lengthAdjust="spacingAndGlyphs">Sat</text>
<text x="235.2" y="75.6" font-size="11.5" fill="#666" textLength="36.4" lengthAdjust="spacingAndGlyphs">Sep 10</text>
<text x="339.3" y="75.6" font-size="11.5" fill="#666" font-weight="bold" textLength="22.4" lengthAdjust="spacingAndGlyphs">Sun</text>
<text x="364.4" y="75.6" font-size="11.5" fill="#666" textLength="36.4" lengthAdjust="spacingAndGlyphs">Sep 11</text>
<text x="465.3" y="75.6" font-size="11.5" fill="#666" font-weight="bold" textLength="25.8" lengthAdjust="spacingAndGlyphs">Mon</text>
<text x="494.3" y="75.6" font-size="11.5" fill="#666" textLength="36.4" lengthAdjust="spacingAndGlyphs">Sep 12</text>
<text x="591.3" y="75.6" font-size="11.5" fill="#666" font-weight="bold" textLength="22.8" lengthAdjust="spacingAndGlyphs">Tue</text>
<text x="616.2" y="75.6" font-size="11.5" fill="#666" textLength="36.4" lengthAdjust="spacingAndGlyphs">Sep 13</text>
<text x="716.3" y="75.6" font-size="11.5" fill="#666" font-weight="bold" textLength="25.4" lengthAdjust="spacingAndGlyphs">Wed</text>
<text x="744.6" y="75.6" font-size="11.5" fill="#666" textLength="36.4" lengthAdjust="spacingAndGlyphs">Sep 14</text>
<text x="842.3" y="75.6" font-size="11.5" fill="#666" font-weight="bold" textLength="23.6" lengthAdjust="spacingAndGlyphs">Thu</text>
<text x="868.1" y="75.6" font-size="11.5" fill="#666" textLength="36.4" lengthAdjust="spacingAndGlyphs">Sep 15</text>
<text x="967.3" y="75.6" font-size="11.5" fill="#666" font-weight="bold" textLength="15.9" lengthAdjust="spacingAndGlyphs">Fri</text>
<text x="985.6" y="75.6" font-size="11.5" fill="#666" textLength="36.4" lengthAdjust="spacingAndGlyphs">Sep 16</text>
<text x="1093.3" y="75.6" font-size="11.5" fill="#666" font-weight="bold" textLength="19.0" lengthAdjust="spacingAndGlyphs">Sat</text>
<text x="1114.2" y="75.6" font-size="11.5" fill="#666" textLength="36.4" lengthAdjust="spacingAndGlyphs">Sep 17</text>
<text x="1218.3" y="75.6" font-size="11.5" fill="#666" font-weight="bold" textLength="22.4" lengthAdjust="spacingAndGlyphs">Sun</text>
<text x="1243.4" y="75.6" font-size="11.5" fill="#666" textLength="36.4" lengthAdjust="spacingAndGlyphs">Sep 18</text>
<text x="1344.3" y="75.6" font-size="11.5" fill="#666" font-weight="bold" textLength="25.8" lengthAdjust="spacingAndGlyphs">Mon</text>
<text x="1373.3" y="75.6" font-size="11.5" fill="#666" textLength="36.4" lengthAdjust="spacingAndGlyphs">Sep 19</text>
<text x="1470.3" y="75.6" font-size="11.5" fill="#666" font-weight="bold" textLength="22.8" lengthAdjust="spacingAndGlyphs">Tue</text>
<text x="1495.2" y="75.6" font-size="11.5" fill="#666" textLength="36.4" lengthAdjust="spacingAndGlyphs">Sep 20</text>
<text x="1595.3" y="75.6" font-size="11.5" fill="#666" font-weight="bold" textLength="25.4" lengthAdjust="spacingAndGlyphs">Wed</text>
<text x="1623.6" y="75.6" font-size="11.5" fill="#666" textLength="36.4" lengthAdjust="spacingAndGlyphs">Sep 21</text>
<text x="1721.3" y="75.6" font-size="11.5" fill="#666" font-weight="bold" textLength="23.6" lengthAdjust="spacingAndGlyphs">Thu</text>
<text x="1747.1" y="75.6" font-size="11.5" fill="#666" textLength="36.4" lengthAdjust="spacingAndGlyphs">Sep 22</text>
<text x="43.86" y="483.8" font-size="11" fill="#666" text-anchor="middle">16</text>
<text x="64.79" y="483.8" font-size="11" fill="#666" text-anchor="middle">20</text>
<text x="85.72" y="483.8" font-size="11" fill="#666" text-anchor="middle">00</text>
<text x="106.65" y="483.8" font-size="11" fill="#666" text-anchor="middle">04</text>
<text x="127.57" y="483.8" font-size="11" fill="#666" text-anchor="middle">08</text>
<text x="148.50" y="483.8" font-size="11" fill="#666" text-anchor="middle">12</text>
<text x="169.43" y="483.8" font-size="11" fill="#666" text-anchor="middle">16</text>
<text x="190.35" y="483.8" font-size="11" fill="#666" text-anchor="middle">20</text>
<text x="211.28" y="483.8" font-size="11" fill="#666" text-anchor="middle">00</text>
<text x="232.21" y="483.8" font-size="11" fill="#666" text-anchor="middle">04</text>
<text x="253.14" y="483.8" font-size="11" fill="#666" text-anchor="middle">08</text>
<text x="274.06" y="483.8" font-size="11" fill="#666" text-anchor="middle">12</text>
<text x="294.99" y="483.8" font-size="11" fill="#666" text-anchor="middle">16</text>
<text x="315.92" y="483.8" font-size="11" fill="#666" text-anchor="middle">20</text>
<text x="336.84" y="483.8" font-size="11" fill="#666" text-anchor="middle">00</text>
<text x="357.77" y="483.8" font-size="11" fill="#666" text-anchor="middle">04</text>
<text x="378.70" y="483.8" font-size="11" fill="#666" text-anchor="middle">08</text>
<text x="399.63" y="483.8" font-size="11" fill="#666" text-anchor="middle">12</text>
<text x="420.55" y="483.8" font-size="11" fill="#666" text-anchor="middle">16</text>
<text x="441.48" y="483.8" font-size="11" fill="#666" text-anchor="middle">20</text>
<text x="462.41" y="483.8" font-size="11" fill="#666" text-anchor="middle">00</text>
<text x="483.33" y="483.8" font-size="11" fill="#666" text-anchor="middle">04</text>
<text x="504.26" y="483.8" font-size="11" fill="#666" text-anchor="middle">08</text>
<text x="525.19" y="483.8" font-size="11" fill="#666" text-anchor="middle">12</text>
<text x="546.12" y="483.8" font-size="11" fill="#666" text-anchor="middle">16</text>
<text x="567.04" y="483.8" font-size="11" fill="#666" text-anchor="middle">20</text>
<text x="587.97" y="483.8" font-size="11" fill="#666" text-anchor="middle">00</text>
<text x="608.90" y="483.8" font-size="11" fill="#666" text-anchor="middle">04</text>
<text x="629.83" y="483.8" font-size="11" fill="#666" text-anchor="middle">08</text>
<text x="650.75" y="483.8" font-size="11" fill="#666" text-anchor="middle">12</text>
<text x="671.68" y="483.8" font-size="11" fill="#666" text-anchor="middle">16</text>
<text x="692.61" y="483.8" font-size="11" fill="#666" text-anchor="middle">20</text>
<text x="713.53" y="483.8" font-size="11" fill="#666" text-anchor="middle">00</text>
<text x="734.46" y="483.8" font-size="11" fill="#666" text-anchor="middle">04</text>
<text x="755.39" y="483.8" font-size="11" fill="#666" text-anchor="middle">08</text>
<text x="776.32" y="483.8" font-size="11" fill="#666" text-anchor="middle">12</text>
<text x="797.24" y="483.8" font-size="11" fill="#666" text-anchor="middle">16</text>
<text x="818.17" y="483.8" font-size="11" fill="#666" text-anchor="middle">20</text>
<text x="839.10" y="483.8" font-size="11" fill="#666" text-anchor="middle">00</text>
<text x="860.02" y="483.8" font-size="11" fill="#666" text-anchor="middle">04</text>
<text x="880.95" y="483.8" font-size="11" fill="#666" text-anchor="middle">08</text>
<text x="901.88" y="483.8" font-size="11" fill="#666" text-anchor="middle">12</text>
<text x="922.81" y="483.8" font-size="11" fill="#666" text-anchor="middle">16</text>
<text x="943.73" y="483.8" font-size="11" fill="#666" text-anchor="middle">20</text>
<text x="964.66" y="483.8" font-size="11" fill="#666" text-anchor="middle">00</text>
<text x="985.59" y="483.8" font-size="11" fill="#666" text-anchor="middle">04</text>
<text x="1006.51" y="483.8" font-size="11" fill="#666" text-anchor="middle">08</text>
<text x="1027.44" y="483.8" font-size="11" fill="#666" text-anchor="middle">12</text>
<text x="1048.37" y="483.8" font-size="11" fill="#666" text-anchor="middle">16</text>
<text x="1069.30" y="483.8" font-size="11" fill="#666" text-anchor="middle">20</text>
<text x="1090.22" y="483.8" font-size="11" fill="#666" text-anchor="middle">00</text>
<text x="1111.15" y="483.8" font-size="11" fill="#666" text-anchor="middle">04</text>
<text x="1132.08" y="483.8" font-size="11" fill="#666" text-anchor="middle">08</text>
<text x="1153.01" y="483.8" font-size="11" fill="#666" text-anchor="middle">12</text>
<text x="1173.93" y="483.8" font-size="11" fill="#666" text-anchor="middle">16</text>
<text x="1194.86" y="483.8" font-size="11" fill="#666" text-anchor="middle">20</text>
<text x="1215.79" y="483.8" font-size="11" fill="#666" text-anchor="middle">00</text>
<text x="1236.71" y="483.8" font-size="11" fill="#666" text-anchor="middle">04</text>
<text x="1257.64" y="483.8" font-size="11" fill="#666" text-anchor="middle">08</text>
<text x="1278.57" y="483.8" font-size="11" fill="#666" text-anchor="middle">12</text>
<text x="1299.50" y="483.8" font-size="11" fill="#666" text-anchor="middle">16</text>
<text x="1320.42" y="483.8" font-size="11" fill="#666" text-anchor="middle">20</text>
<text x="1341.35" y="483.8" font-size="11" fill="#666" text-anchor="middle">00</text>
<text x="1362.28" y="483.8" font-size="11" fill="#666" text-anchor="middle">04</text>
<text x="1383.20" y="483.8" font-size="11" fill="#666" text-anchor="middle">08</text>
<text x="1404.13" y="483.8" font-size="11" fill="#666" text-anchor="middle">12</text>
<text x="1425.06" y="483.8" font-size="11" fill="#666" text-anchor="middle">16</text>
<text x="1445.99" y="483.8" font-size="11" fill="#666" text-anchor="middle">20</text>
<text x="1466.91" y="483.8" font-size="11" fill="#666" text-anchor="middle">00</text>
<text x="1487.84" y="483.8" font-size="11" fill="#666" text-anchor="middle">04</text>
<text x="1508.77" y="483.8" font-size="11" fill="#666" text-anchor="middle">08</text>
<text x="1529.69" y="483.8" font-size="11" fill="#666" text-anchor="middle">12</text>
<text x="1550.62" y="483.8" font-size="11" fill="#666" text-anchor="middle">16</text>
<text x="1571.55" y="483.8" font-size="11" fill="#666" text-anchor="middle">20</text>
<text x="1592.48" y="483.8" font-size="11" fill="#666" text-anchor="middle">00</text>
<text x="1613.40" y="483.8" font-size="11" fill="#666" text-anchor="middle">04</text>
<text x="1634.33" y="483.8" font-size="11" fill="#666" text-anchor="middle">08</text>
<text x="1655.26" y="483.8" font-size="11" fill="#666" text-anchor="middle">12</text>
<text x="1676.19" y="483.8" font-size="11" fill="#666" text-anchor="middle">16</text>
<text x="1697.11" y="483.8" font-size="11" fill="#666" text-anchor="middle">20</text>
<text x="1718.04" y="483.8" font-size="11" fill="#666" text-anchor="middle">00</text>
<text x="1738.97" y="483.8" font-size="11" fill="#666" text-anchor="middle">04</text>
<text x="1759.89" y="483.8" font-size="11" fill="#666" text-anchor="middle">08</text>
<text x="1780.82" y="483.8" font-size="11" fill="#666" text-anchor="middle">12</text>
<text x="1801.75" y="483.8" font-size="11" fill="#666" text-anchor="middle">16</text>
<text x="1822.68" y="483.8" font-size="11" fill="#666" text-anchor="middle">20</text>
<text x="30.4" y="134.4" font-size="10" fill="#666" text-anchor="end" textLength="16.2" lengthAdjust="spacingAndGlyphs">25°</text>
<text x="30.4" y="194.4" font-size="10" fill="#666" text-anchor="end" textLength="16.2" lengthAdjust="spacingAndGlyphs">20°</text>
<text x="30.4" y="255.4" font-size="10" fill="#666" text-anchor="end" textLength="16.2" lengthAdjust="spacingAndGlyphs">15°</text>
<text x="30.4" y="316.4" font-size="10" fill="#666" text-anchor="end" textLength="16.2" lengthAdjust="spacingAndGlyphs">10°</text>
<text x="30.4" y="376.4" font-size="10" fill="#666" text-anchor="end" textLength="9.8" lengthAdjust="spacingAndGlyphs">5°</text>
<text x="30.4" y="437.4" font-size="10" fill="#666" text-anchor="end" textLength="9.8" lengthAdjust="spacingAndGlyphs">0°</text>
<text x="1853.3" y="438.70" font-size="11" fill="#666">0</text>
<text x="1853.3" y="372.00" font-size="11" fill="#666">1.2</text>
<text x="1853.3" y="305.00" font-size="11" fill="#666">2.4</text>
<text x="1853.3" y="237.00" font-size="11" fill="#666">3.6</text>
<text x="1853.3" y="170.00" font-size="11" fill="#666">4.8</text>
<text x="1853.3" y="102.70" font-size="11" fill="#666">6</text>
<clipPath id="rc"><rect x="1860" y="100" width="18.4" height="340"/></clipPath>
<g clip-path="url(#rc)"><text transform="translate(1872.9,267) rotate(90)" font-size="12" fill="#666" text-anchor="middle" textLength="105.5" lengthAdjust="spacingAndGlyphs">Precipitation (mm)</text></g>
<text x="935.5" y="503.7" font-size="12" fill="#666" text-anchor="middle" textLength="111.6" lengthAdjust="spacingAndGlyphs">Local time (UTC+2)</text>
<text x="1837.5" y="500" font-size="9" fill="#999" text-anchor="end" textLength="76.2" lengthAdjust="spacingAndGlyphs">wetterzentrale.de</text>
</svg>
</body></html>
